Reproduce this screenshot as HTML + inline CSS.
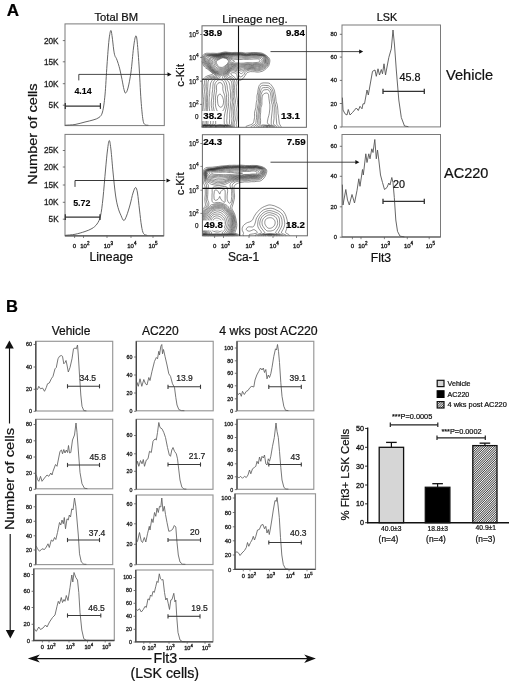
<!DOCTYPE html>
<html lang="en"><head><meta charset="utf-8"><title>Figure: Flt3+ LSK cells after AC220</title>
<style>html,body{margin:0;padding:0;background:#fff}body{width:520px;height:682px;overflow:hidden}svg{display:block}text{font-family:"Liberation Sans", Arial, sans-serif}</style></head><body>
<svg width="520" height="682" viewBox="0 0 520 682">
<defs><pattern id="hatch" width="1.25" height="1.25" patternUnits="userSpaceOnUse" patternTransform="rotate(45)"><rect width="1.25" height="1.25" fill="#fff"/><rect width="0.62" height="1.25" fill="#3c3c3c"/></pattern></defs>
<rect width="520" height="682" fill="#fff"/>
<text x="6.80" y="16.30" font-size="17" text-anchor="start" font-weight="bold" fill="#000" stroke="#000" stroke-width="0.22" >A</text>
<text x="116.30" y="21.30" font-size="11.2" text-anchor="middle" font-weight="normal" fill="#111" stroke="#111" stroke-width="0.22" >Total BM</text>
<text x="254.90" y="22.80" font-size="11.3" text-anchor="middle" font-weight="normal" fill="#111" stroke="#111" stroke-width="0.22" >Lineage neg.</text>
<text x="387.00" y="21.30" font-size="10.8" text-anchor="middle" font-weight="normal" fill="#111" stroke="#111" stroke-width="0.22" >LSK</text>
<text x="446.00" y="79.80" font-size="14.6" text-anchor="start" font-weight="normal" fill="#111" stroke="#111" stroke-width="0.22" >Vehicle</text>
<text x="444.00" y="178.40" font-size="14.5" text-anchor="start" font-weight="normal" fill="#111" stroke="#111" stroke-width="0.22" >AC220</text>
<text transform="translate(36.70 134.00) rotate(-90) scale(1.105 1)" font-size="13.2" text-anchor="middle" fill="#111" stroke="#111" stroke-width="0.22" >Number of cells</text>
<text x="111.30" y="260.80" font-size="12.2" text-anchor="middle" font-weight="normal" fill="#111" stroke="#111" stroke-width="0.22" >Lineage</text>
<text x="243.60" y="261.40" font-size="12.0" text-anchor="middle" font-weight="normal" fill="#111" stroke="#111" stroke-width="0.22" >Sca-1</text>
<text x="381.00" y="261.80" font-size="12.2" text-anchor="middle" font-weight="normal" fill="#111" stroke="#111" stroke-width="0.22" >Flt3</text>
<text transform="translate(184.00 75.30) rotate(-90) scale(1.05 1)" font-size="10.8" text-anchor="middle" fill="#111" stroke="#111" stroke-width="0.22" >c-Kit</text>
<text transform="translate(184.00 183.80) rotate(-90) scale(1.05 1)" font-size="10.8" text-anchor="middle" fill="#111" stroke="#111" stroke-width="0.22" >c-Kit</text>
<rect x="65.00" y="23.90" width="99.30" height="101.70" fill="none" stroke="#7a7a7a" stroke-width="1.0"/>
<text x="58.60" y="43.55" font-size="8.2" text-anchor="end" font-weight="normal" fill="#222" stroke="#222" stroke-width="0.3" >20K</text>
<line x1="62.80" y1="40.60" x2="65.00" y2="40.60" stroke="#555" stroke-width="0.8" />
<text x="58.60" y="64.75" font-size="8.2" text-anchor="end" font-weight="normal" fill="#222" stroke="#222" stroke-width="0.3" >15K</text>
<line x1="62.80" y1="61.80" x2="65.00" y2="61.80" stroke="#555" stroke-width="0.8" />
<text x="58.60" y="86.65" font-size="8.2" text-anchor="end" font-weight="normal" fill="#222" stroke="#222" stroke-width="0.3" >10K</text>
<line x1="62.80" y1="83.70" x2="65.00" y2="83.70" stroke="#555" stroke-width="0.8" />
<text x="58.60" y="108.15" font-size="8.2" text-anchor="end" font-weight="normal" fill="#222" stroke="#222" stroke-width="0.3" >5K</text>
<line x1="62.80" y1="105.20" x2="65.00" y2="105.20" stroke="#555" stroke-width="0.8" />
<path d="M65.50 125.20 C67.08 125.08 71.75 125.03 75.00 124.50 C78.25 123.97 82.00 122.75 85.00 122.00 C88.00 121.25 90.67 120.75 93.00 120.00 C95.33 119.25 97.42 118.83 99.00 117.50 C100.58 116.17 101.50 115.75 102.50 112.00 C103.50 108.25 104.25 102.83 105.00 95.00 C105.75 87.17 106.33 74.17 107.00 65.00 C107.67 55.83 108.37 45.75 109.00 40.00 C109.63 34.25 110.27 31.00 110.80 30.50 C111.33 30.00 111.73 33.92 112.20 37.00 C112.67 40.08 113.17 45.92 113.60 49.00 C114.03 52.08 114.33 53.92 114.80 55.50 C115.27 57.08 115.83 57.17 116.40 58.50 C116.97 59.83 117.60 61.58 118.20 63.50 C118.80 65.42 119.37 67.33 120.00 70.00 C120.63 72.67 121.33 76.25 122.00 79.50 C122.67 82.75 123.40 87.25 124.00 89.50 C124.60 91.75 124.93 93.25 125.60 93.00 C126.27 92.75 127.10 91.50 128.00 88.00 C128.90 84.50 130.08 78.67 131.00 72.00 C131.92 65.33 132.75 53.92 133.50 48.00 C134.25 42.08 134.92 37.83 135.50 36.50 C136.08 35.17 136.42 35.25 137.00 40.00 C137.58 44.75 138.33 55.00 139.00 65.00 C139.67 75.00 140.33 90.83 141.00 100.00 C141.67 109.17 142.33 115.90 143.00 120.00 C143.67 124.10 144.17 123.73 145.00 124.60 C145.83 125.47 147.50 125.10 148.00 125.20" fill="none" stroke="#555" stroke-width="0.9" stroke-linejoin="round" stroke-linecap="round" />
<line x1="65.30" y1="106.00" x2="100.40" y2="106.00" stroke="#333" stroke-width="1.25" />
<line x1="65.30" y1="103.10" x2="65.30" y2="108.90" stroke="#333" stroke-width="1.25" />
<line x1="100.40" y1="103.10" x2="100.40" y2="108.90" stroke="#333" stroke-width="1.25" />
<text x="74.40" y="94.20" font-size="8.9" text-anchor="start" font-weight="bold" fill="#000" stroke="#000" stroke-width="0.1" >4.14</text>
<path d="M78.80 80.00 L78.80 74.40 L168.00 74.40" fill="none" stroke="#333" stroke-width="0.9" stroke-linejoin="round" stroke-linecap="round" />
<path d="M171.50 74.40 L167.50 72.30 L167.50 76.50 Z" fill="#111"/>
<rect x="65.00" y="134.40" width="98.80" height="101.40" fill="none" stroke="#7a7a7a" stroke-width="1.0"/>
<text x="58.60" y="153.45" font-size="8.2" text-anchor="end" font-weight="normal" fill="#222" stroke="#222" stroke-width="0.3" >25K</text>
<line x1="62.80" y1="150.50" x2="65.00" y2="150.50" stroke="#555" stroke-width="0.8" />
<text x="58.60" y="169.95" font-size="8.2" text-anchor="end" font-weight="normal" fill="#222" stroke="#222" stroke-width="0.3" >20K</text>
<line x1="62.80" y1="167.00" x2="65.00" y2="167.00" stroke="#555" stroke-width="0.8" />
<text x="58.60" y="187.95" font-size="8.2" text-anchor="end" font-weight="normal" fill="#222" stroke="#222" stroke-width="0.3" >15K</text>
<line x1="62.80" y1="185.00" x2="65.00" y2="185.00" stroke="#555" stroke-width="0.8" />
<text x="58.60" y="205.25" font-size="8.2" text-anchor="end" font-weight="normal" fill="#222" stroke="#222" stroke-width="0.3" >10K</text>
<line x1="62.80" y1="202.30" x2="65.00" y2="202.30" stroke="#555" stroke-width="0.8" />
<text x="58.60" y="222.15" font-size="8.2" text-anchor="end" font-weight="normal" fill="#222" stroke="#222" stroke-width="0.3" >5K</text>
<line x1="62.80" y1="219.20" x2="65.00" y2="219.20" stroke="#555" stroke-width="0.8" />
<path d="M65.50 235.30 C67.08 235.13 71.75 234.93 75.00 234.30 C78.25 233.67 82.17 232.47 85.00 231.50 C87.83 230.53 90.00 229.75 92.00 228.50 C94.00 227.25 95.58 226.08 97.00 224.00 C98.42 221.92 99.50 220.33 100.50 216.00 C101.50 211.67 102.17 205.67 103.00 198.00 C103.83 190.33 104.75 178.00 105.50 170.00 C106.25 162.00 106.87 154.92 107.50 150.00 C108.13 145.08 108.72 140.50 109.30 140.50 C109.88 140.50 110.38 144.75 111.00 150.00 C111.62 155.25 112.25 164.50 113.00 172.00 C113.75 179.50 114.67 189.08 115.50 195.00 C116.33 200.92 117.08 204.08 118.00 207.50 C118.92 210.92 120.03 213.33 121.00 215.50 C121.97 217.67 122.88 220.42 123.80 220.50 C124.72 220.58 125.47 218.58 126.50 216.00 C127.53 213.42 128.92 208.83 130.00 205.00 C131.08 201.17 132.07 195.92 133.00 193.00 C133.93 190.08 134.85 187.50 135.60 187.50 C136.35 187.50 136.85 189.25 137.50 193.00 C138.15 196.75 138.83 204.50 139.50 210.00 C140.17 215.50 140.83 222.08 141.50 226.00 C142.17 229.92 142.58 231.95 143.50 233.50 C144.42 235.05 146.42 235.00 147.00 235.30" fill="none" stroke="#555" stroke-width="0.9" stroke-linejoin="round" stroke-linecap="round" />
<line x1="65.30" y1="217.20" x2="100.00" y2="217.20" stroke="#333" stroke-width="1.25" />
<line x1="65.30" y1="214.30" x2="65.30" y2="220.10" stroke="#333" stroke-width="1.25" />
<line x1="100.00" y1="214.30" x2="100.00" y2="220.10" stroke="#333" stroke-width="1.25" />
<text x="73.20" y="206.00" font-size="8.9" text-anchor="start" font-weight="bold" fill="#000" stroke="#000" stroke-width="0.1" >5.72</text>
<path d="M75.00 186.50 L75.00 180.50 L165.00 180.50" fill="none" stroke="#222" stroke-width="0.9" stroke-linejoin="round" stroke-linecap="round" />
<path d="M170.50 180.50 L166.50 178.40 L166.50 182.60 Z" fill="#111"/>
<text x="74.40" y="247.60" font-size="6.0" text-anchor="middle" font-weight="normal" fill="#222" stroke="#222" stroke-width="0.35" >0</text>
<text x="84.80" y="247.60" font-size="6.0" text-anchor="middle" font-weight="normal" fill="#222" stroke="#222" stroke-width="0.35" >10<tspan dy="-2.88" font-size="4.56">2</tspan></text>
<text x="108.30" y="247.60" font-size="6.0" text-anchor="middle" font-weight="normal" fill="#222" stroke="#222" stroke-width="0.35" >10<tspan dy="-2.88" font-size="4.56">3</tspan></text>
<text x="131.90" y="247.60" font-size="6.0" text-anchor="middle" font-weight="normal" fill="#222" stroke="#222" stroke-width="0.35" >10<tspan dy="-2.88" font-size="4.56">4</tspan></text>
<text x="153.00" y="247.60" font-size="6.0" text-anchor="middle" font-weight="normal" fill="#222" stroke="#222" stroke-width="0.35" >10<tspan dy="-2.88" font-size="4.56">5</tspan></text>
<line x1="65.00" y1="235.80" x2="163.80" y2="235.80" stroke="#555" stroke-width="1.2" />
<line x1="74.60" y1="235.80" x2="74.60" y2="238.00" stroke="#555" stroke-width="0.7" />
<line x1="83.50" y1="235.80" x2="83.50" y2="238.00" stroke="#555" stroke-width="0.7" />
<line x1="107.00" y1="235.80" x2="107.00" y2="238.00" stroke="#555" stroke-width="0.7" />
<line x1="131.00" y1="235.80" x2="131.00" y2="238.00" stroke="#555" stroke-width="0.7" />
<line x1="153.00" y1="235.80" x2="153.00" y2="238.00" stroke="#555" stroke-width="0.7" />
<g fill="none" stroke="#222" stroke-width="0.5" stroke-linejoin="round">
<path d="M202.0 58.2L202.4 56.3L202.9 55.3L203.5 54.7L204.2 54.1L205.0 53.7L205.8 53.4L206.8 53.2L210.5 53.3L213.0 53.2L217.0 53.4L219.6 53.0L224.0 52.1L225.5 51.9L228.2 52.3L232.0 52.6L235.0 52.4L238.2 52.5L241.2 52.4L245.5 53.0L250.8 52.6L255.2 52.5L260.5 52.8L262.0 53.2L263.2 53.6L265.5 54.9L266.8 55.8L267.9 56.8L268.9 57.8L269.4 58.5L269.8 59.8L269.9 61.0L269.6 62.8L268.9 65.3L268.3 66.3L267.2 67.6L266.5 68.3L264.2 70.2L263.2 70.8L262.2 71.3L261.0 71.6L259.2 72.0L257.0 72.1L254.2 71.7L252.5 71.7L250.5 71.6L249.5 71.8L247.5 72.4L247.0 72.7L246.5 73.2L245.2 75.5L243.0 78.5L242.0 79.4L240.8 80.1L240.0 80.3L239.2 80.2L238.5 79.8L237.9 79.3L237.6 78.8L237.4 78.0L237.0 75.5L236.8 74.5L236.3 73.8L235.8 73.2L235.2 73.0L234.5 72.8L232.5 72.7L231.8 72.8L231.2 73.0L230.8 73.5L230.7 74.0L231.0 74.5L234.0 76.8L234.8 77.5L235.6 78.5L236.5 80.0L237.0 82.0L237.0 83.3L236.4 86.3L236.4 87.8L236.6 90.3L236.7 95.8L237.4 100.8L237.5 102.3L237.4 104.3L236.7 109.0L237.0 112.5L237.0 115.0L237.2 118.0L236.6 122.3L236.2 124.5L236.3 125.3L236.7 126.5L236.6 127.3"/>
<path d="M202.0 124.7L202.7 124.3L202.9 124.0L203.2 121.8L203.1 119.3L203.0 116.0L203.1 113.8L202.9 109.8L203.7 101.0L203.6 99.5L203.1 96.8L203.0 95.0L202.6 91.8L202.6 90.8L203.1 86.0L203.0 85.0L202.4 82.8L202.4 81.8L202.4 80.8L202.7 80.0L203.3 79.0L204.5 77.8L205.5 76.9L206.8 76.2L208.2 75.6L212.2 74.5L212.5 74.3L212.6 74.0L212.5 73.5L212.1 73.0L210.9 71.8L207.8 69.3L205.8 68.1L204.7 67.0L203.9 66.0L203.3 65.0L202.0 61.4"/>
<path d="M246.3 127.3L246.0 127.0L245.9 126.8L246.0 126.5L246.3 126.3L247.2 125.9L250.6 124.8L251.8 124.3L252.9 123.5L253.4 122.8L253.8 121.5L254.6 117.3L254.6 116.3L254.5 113.5L254.7 111.8L255.8 107.8L256.3 102.5L257.0 99.5L256.9 96.8L257.0 95.5L257.7 92.8L258.1 89.5L258.8 86.5L259.1 85.8L259.5 85.0L260.0 84.4L260.8 83.7L261.5 83.3L262.2 83.1L263.2 82.9L264.8 82.9L268.2 83.0L269.2 83.3L270.0 83.7L271.1 84.8L272.6 86.8L273.5 88.3L274.2 89.8L274.6 91.3L275.0 93.8L275.6 96.3L276.1 101.3L276.3 102.0L277.1 104.3L277.4 105.8L277.9 110.3L278.0 113.5L278.5 116.0L278.7 118.3L279.3 123.3L279.8 124.5L280.9 126.3L281.1 126.8L281.0 127.3"/>
<path d="M202.0 125.3L204.2 124.5L204.7 124.3L204.9 124.0L205.0 123.5L205.2 118.0L204.8 110.5L205.2 107.3L205.2 105.0L205.3 101.3L205.0 98.0L204.9 94.3L204.5 91.3L205.0 86.5L204.5 82.3L204.6 80.8L205.0 79.8L205.6 78.8L206.2 78.1L207.0 77.6L208.0 77.1L209.0 76.7L213.8 75.7L214.2 75.4L214.4 75.0L214.3 74.5L214.0 74.0L212.8 72.8L211.2 71.3L206.0 66.8L205.1 65.8L204.4 64.8L203.2 61.8L202.9 60.8L202.8 60.0L202.9 58.8L203.3 57.0L203.6 56.0L203.9 55.5L205.0 54.7L205.8 54.4L206.5 54.3L213.5 54.0L217.2 54.1L220.4 53.5L223.0 53.0L225.5 52.6L232.0 53.3L234.8 53.1L237.0 53.2L241.0 53.1L244.2 53.6L246.0 53.8L247.2 53.8L251.2 53.3L256.0 53.2L260.8 53.7L262.0 54.0L263.2 54.4L264.8 55.1L266.0 55.9L266.7 56.5L267.7 57.5L268.2 58.3L268.5 59.0L268.7 60.0L268.8 61.0L268.7 62.3L268.2 64.0L267.9 65.0L267.3 66.0L266.1 67.3L263.0 69.5L262.2 69.8L261.2 70.1L257.8 70.8L256.5 70.8L254.0 70.3L250.5 70.1L249.5 70.2L247.0 70.8L246.2 71.2L245.5 71.9L244.8 72.8L243.9 74.5L243.0 75.5L241.8 76.4L241.0 76.8L240.5 76.9L239.8 76.7L239.2 76.2L238.8 75.3L238.1 73.5L237.2 72.4L236.2 71.7L235.0 71.2L233.0 70.9L232.0 71.0L231.2 71.2L230.5 71.6L229.8 72.3L229.2 73.0L228.9 73.8L228.6 75.0L228.8 75.7L229.2 76.1L231.0 76.8L231.8 77.1L232.5 77.6L233.2 78.3L233.7 79.0L234.1 79.8L234.8 81.8L235.0 82.8L235.0 83.5L234.5 87.3L234.8 90.5L234.6 95.5L234.7 96.8L235.4 100.3L235.5 101.3L235.4 102.3L235.0 104.5L234.6 108.5L234.9 112.0L234.9 115.0L235.3 118.5L235.2 119.8L234.4 122.3L234.1 124.0L234.1 125.0L234.5 126.5L234.4 127.3"/>
<path d="M251.4 127.3L251.1 126.8L251.4 126.3L252.2 125.8L254.2 124.8L255.0 124.3L255.5 123.8L255.9 123.0L256.1 120.3L256.6 117.8L256.4 114.5L256.5 113.3L256.8 111.3L257.3 108.8L258.1 103.8L258.6 98.8L258.6 95.3L259.4 89.8L260.1 87.5L260.4 86.8L260.8 86.3L261.2 85.9L262.0 85.5L262.8 85.3L263.8 85.3L268.0 85.6L268.8 85.8L269.5 86.3L270.8 87.3L271.5 88.1L272.2 89.3L273.0 91.3L273.3 92.3L273.5 94.3L274.2 97.8L274.5 101.6L275.4 104.8L276.0 107.8L276.0 110.8L276.1 113.3L276.2 117.3L276.7 123.5L276.9 124.3L277.2 124.8L278.7 126.3L278.9 126.8L278.9 127.3"/>
<path d="M202.0 125.6L203.0 125.2L205.0 124.8L205.8 124.5L206.2 124.3L206.4 123.8L206.6 118.5L206.3 110.0L206.5 107.5L206.6 102.3L206.5 100.8L206.2 98.0L206.4 95.0L206.4 93.0L206.2 90.8L206.3 86.5L206.2 82.0L206.3 80.8L206.6 80.0L207.0 79.3L207.5 78.8L208.2 78.3L209.2 77.9L211.2 77.5L214.5 76.5L215.5 76.0L215.7 75.5L215.4 74.8L214.8 74.0L208.2 67.9L206.5 66.3L205.8 65.5L205.3 64.8L204.1 62.0L203.9 61.3L203.7 60.3L203.7 59.0L204.0 57.3L204.3 56.5L204.7 55.8L205.5 55.2L206.8 54.9L213.0 54.5L217.2 54.5L219.9 54.0L222.5 53.4L225.8 53.0L231.8 53.7L234.8 53.5L236.8 53.6L241.0 53.6L243.9 54.0L246.2 54.3L247.8 54.2L251.5 53.7L253.5 53.8L256.0 53.7L261.0 54.2L262.2 54.5L263.5 54.9L265.5 56.1L266.3 56.8L266.9 57.5L267.4 58.3L267.7 59.3L267.9 60.5L267.9 61.5L267.7 62.8L267.4 64.0L266.9 65.0L266.4 65.8L265.5 66.7L262.5 68.6L261.8 68.9L260.8 69.2L258.8 69.6L257.5 69.8L256.2 69.8L253.8 69.3L251.0 69.1L250.0 69.2L246.8 69.7L246.0 70.0L245.5 70.3L243.9 71.5L242.2 73.2L241.8 73.5L241.2 73.6L240.5 73.4L238.0 71.3L237.0 70.7L234.2 69.9L233.2 69.7L232.5 69.8L231.8 70.0L231.0 70.3L230.2 70.8L229.5 71.5L228.5 72.8L227.2 75.0L227.0 75.5L227.0 76.1L227.2 76.5L227.5 77.0L228.5 77.5L230.2 78.0L231.0 78.3L231.7 78.8L232.2 79.3L232.8 80.5L233.4 82.5L233.4 83.5L233.3 87.8L233.6 90.5L233.3 93.3L233.2 96.3L233.3 97.5L233.9 100.5L234.0 101.5L233.9 102.5L233.4 105.0L233.0 108.0L233.1 109.0L233.4 111.8L233.4 115.5L233.7 119.0L233.6 120.0L233.0 122.1L232.8 124.0L232.9 125.0L233.4 126.5L233.2 127.3"/>
<path d="M254.4 127.3L254.2 126.8L254.3 126.5L254.8 126.0L257.0 124.5L257.4 124.0L257.7 123.3L257.7 122.5L257.6 120.8L257.9 117.8L257.9 114.3L258.5 110.3L258.7 107.5L259.5 103.3L259.6 101.0L259.8 99.0L259.7 94.8L260.8 90.5L261.2 89.5L261.6 88.8L262.0 88.3L262.7 87.8L263.5 87.6L265.5 87.6L267.0 87.4L267.8 87.5L268.5 87.8L269.5 88.4L270.2 89.0L271.0 90.3L271.6 91.5L271.9 92.5L272.8 98.8L273.1 101.3L273.9 104.5L274.3 108.0L274.2 113.0L274.0 115.5L274.1 118.3L273.5 122.8L273.5 123.8L273.7 124.3L274.1 124.8L276.1 126.0L276.7 126.5L276.8 126.8L276.7 127.0L276.5 127.3"/>
<path d="M202.0 126.0L202.5 125.7L203.2 125.4L206.6 124.8L207.3 124.5L207.7 124.3L207.9 123.8L208.0 119.5L207.8 116.0L207.8 112.8L207.6 109.8L207.7 102.3L207.4 98.0L207.8 94.5L207.8 92.3L207.6 89.0L207.8 86.8L207.9 83.0L208.2 81.0L208.7 80.0L209.5 79.4L212.8 78.0L216.2 76.9L216.7 76.5L216.9 76.0L216.7 75.3L216.1 74.5L210.3 69.3L208.8 67.6L206.9 65.8L206.2 64.8L204.9 62.0L204.5 60.5L204.5 59.3L204.7 57.8L205.0 56.9L205.3 56.3L205.9 55.8L206.5 55.6L209.0 55.1L211.8 54.9L217.3 54.8L218.9 54.5L222.5 53.7L225.8 53.4L231.5 54.0L234.5 53.9L236.5 54.0L240.8 53.9L244.0 54.4L246.5 54.7L248.2 54.5L251.5 54.1L253.8 54.2L256.0 54.1L258.8 54.4L261.2 54.6L262.2 54.8L263.2 55.2L264.2 55.7L265.2 56.4L266.0 57.0L266.5 57.8L266.8 58.5L267.0 59.5L267.0 62.0L266.8 63.0L266.6 63.8L266.2 64.6L265.8 65.3L265.0 66.0L262.2 67.7L261.5 68.0L259.2 68.6L257.5 68.9L256.2 68.8L254.0 68.4L251.2 68.3L246.5 68.9L245.2 69.3L242.8 70.7L241.5 71.0L240.0 70.8L237.7 69.8L235.0 68.9L234.0 68.8L232.8 68.9L232.0 69.1L231.2 69.4L230.2 70.0L229.5 70.7L228.8 71.5L226.6 74.3L226.0 75.3L225.7 76.5L225.8 77.0L226.0 77.5L227.0 78.4L229.8 79.8L230.8 80.5L231.4 81.5L231.8 83.0L232.0 85.8L232.0 88.3L232.3 90.5L232.0 93.8L231.9 96.5L232.5 100.3L232.6 101.5L232.5 102.5L232.0 105.0L231.7 108.0L231.9 112.0L231.7 116.0L232.0 118.8L231.6 121.5L231.5 123.8L231.6 124.8L232.5 126.3L232.6 126.8L232.3 127.3"/>
<path d="M256.9 127.3L256.8 126.8L256.9 126.3L258.7 124.5L259.0 124.0L259.1 123.3L259.0 119.8L259.0 114.8L259.5 111.8L259.7 107.5L260.5 104.8L260.7 103.8L260.6 101.3L260.8 99.0L260.8 96.3L261.0 94.5L262.3 91.5L262.8 90.8L263.2 90.3L263.8 90.0L264.2 89.9L266.8 89.6L267.5 89.6L268.0 89.8L268.5 90.1L269.1 90.5L269.5 91.0L270.0 91.9L270.5 93.5L271.0 96.3L271.1 98.8L271.4 101.5L271.6 102.5L272.2 104.5L272.4 105.8L272.3 110.0L271.3 119.0L271.2 123.5L271.4 124.3L271.8 124.8L272.5 125.3L274.2 126.1L274.9 126.5L275.0 126.8L274.9 127.0L274.8 127.3"/>
<path d="M202.0 126.5L202.3 126.0L203.2 125.6L204.2 125.4L207.1 125.0L209.6 124.5L210.2 124.3L210.5 124.0L210.6 123.8L210.6 119.3L209.9 114.5L209.8 111.5L209.4 108.8L209.1 105.8L209.1 101.3L209.2 97.5L209.7 93.3L209.8 89.8L210.2 87.3L210.4 84.0L210.8 82.8L211.3 81.8L212.1 80.5L213.0 79.5L213.6 79.0L214.6 78.5L217.5 77.4L218.0 77.0L218.3 76.5L218.1 75.8L217.2 74.8L216.4 74.0L214.0 72.2L210.9 69.3L207.2 65.0L205.7 62.0L205.3 60.8L205.3 59.8L205.5 58.3L205.8 57.5L206.1 56.8L206.8 56.3L207.3 56.0L209.8 55.4L211.5 55.2L217.5 55.1L219.1 54.8L222.5 54.0L225.8 53.7L231.2 54.4L234.2 54.2L236.5 54.4L240.8 54.3L243.8 54.8L246.5 55.0L248.8 54.8L251.5 54.4L253.8 54.5L256.0 54.4L258.8 54.8L261.2 54.9L262.2 55.1L263.0 55.4L264.0 55.9L264.9 56.5L265.4 57.0L265.8 57.8L266.1 58.5L266.2 59.3L266.2 62.0L265.9 63.5L265.1 64.8L264.5 65.3L262.0 66.8L260.8 67.3L257.5 67.9L256.5 67.9L254.2 67.6L251.2 67.6L246.8 68.0L245.0 68.4L242.5 69.2L241.2 69.4L239.5 69.2L235.2 67.9L234.0 67.8L233.0 68.0L232.2 68.2L231.2 68.7L230.2 69.4L229.5 70.0L228.5 71.0L227.0 72.9L225.5 74.4L224.8 75.5L224.4 76.8L224.4 77.3L224.6 77.8L225.1 78.5L227.8 80.8L228.6 81.8L229.2 83.0L229.9 85.8L230.0 88.3L230.5 91.3L230.6 92.8L230.4 96.0L230.9 99.3L231.0 100.5L230.4 105.0L229.6 114.5L229.7 118.3L229.4 123.5L229.5 124.0L229.8 124.5L231.0 125.4L231.7 126.0L231.9 126.5L231.9 126.8L231.6 127.3"/>
<path d="M258.5 127.3L258.4 126.8L258.4 126.5L258.7 126.0L259.8 125.0L260.1 124.5L260.4 124.0L260.5 123.3L260.6 120.5L260.3 117.5L260.3 115.0L260.7 112.3L260.8 108.0L261.0 107.2L261.7 105.3L261.9 104.3L261.9 100.8L262.1 97.8L262.3 96.3L262.8 95.0L263.1 94.5L263.6 94.0L264.2 93.6L265.0 93.3L265.8 93.1L266.5 93.0L267.2 93.1L267.8 93.4L268.2 94.0L268.5 94.7L268.7 95.8L268.9 98.3L269.8 104.5L269.9 106.0L269.8 109.0L269.3 113.3L268.8 115.5L268.0 118.3L267.4 121.8L267.4 122.8L267.6 123.3L267.9 123.8L268.8 124.5L272.5 126.0L273.5 126.5L273.7 126.8L273.6 127.0L273.4 127.3"/>
<path d="M202.7 127.3L202.3 126.8L202.4 126.3L202.8 126.0L203.5 125.7L204.5 125.5L211.6 124.8L212.4 124.5L212.8 124.3L213.0 123.8L213.2 122.3L213.2 119.3L212.6 114.3L211.8 108.3L211.3 105.8L211.3 102.0L212.0 96.3L212.1 93.3L212.7 89.8L212.8 86.5L213.2 83.3L213.4 82.3L213.8 81.6L214.2 80.9L214.8 80.3L215.7 79.5L216.5 79.1L219.4 77.8L220.1 77.3L220.3 76.8L219.9 76.0L216.6 73.5L214.8 72.3L211.7 69.5L210.5 68.3L208.3 65.5L206.6 62.3L206.2 61.0L206.2 60.3L206.3 59.3L206.6 58.3L207.1 57.5L207.9 56.8L208.7 56.3L210.2 55.8L211.8 55.6L217.5 55.3L219.2 55.1L222.2 54.3L225.5 54.0L226.8 54.0L230.8 54.7L234.0 54.6L236.5 54.8L240.5 54.6L243.8 55.1L246.5 55.4L249.0 55.1L251.5 54.8L253.8 54.9L256.0 54.8L258.8 55.1L261.2 55.3L262.8 55.7L263.5 56.0L264.2 56.5L264.7 57.0L265.2 57.8L265.4 58.5L265.5 59.3L265.5 61.8L265.3 63.0L264.7 64.0L263.9 64.8L262.0 65.9L260.5 66.4L257.5 66.8L256.2 66.9L254.2 66.8L247.5 67.0L243.5 67.6L240.5 68.2L239.0 68.0L236.7 67.3L235.5 67.0L234.0 67.0L233.0 67.1L232.2 67.4L231.2 68.0L230.5 68.5L229.5 69.4L228.5 70.4L226.8 72.5L224.6 74.3L223.0 76.3L222.6 77.0L222.5 77.5L222.8 78.0L223.1 78.5L225.2 80.8L225.9 81.8L226.3 82.8L227.1 85.5L227.4 89.3L228.3 92.5L228.4 93.5L228.3 96.3L228.6 98.8L228.7 102.5L228.3 106.5L227.5 111.1L227.0 115.0L227.0 118.0L226.7 120.3L227.0 123.8L227.2 124.3L227.4 124.5L228.0 124.8L230.0 125.4L231.0 126.0L231.3 126.5L231.2 127.0L231.0 127.3"/>
<path d="M259.8 127.3L259.6 126.8L259.7 126.5L260.5 125.8L262.0 125.0L263.2 124.9L267.2 125.2L270.8 125.9L271.8 126.2L272.3 126.5L272.5 126.8L272.5 127.0L272.2 127.3"/>
<path d="M222.2 75.4L221.8 75.5L221.2 75.5L219.8 74.9L218.5 74.2L215.0 71.9L211.3 68.5L209.0 65.5L208.5 64.8L207.5 62.3L207.3 61.5L207.2 60.8L207.4 59.8L207.9 58.5L208.6 57.5L209.4 56.8L210.2 56.3L211.2 56.1L217.8 55.6L219.2 55.3L222.2 54.6L226.0 54.3L227.2 54.4L230.8 55.1L234.0 55.0L236.5 55.2L240.8 55.1L243.5 55.5L246.2 55.8L247.5 55.7L252.0 55.2L256.2 55.2L258.8 55.5L261.0 55.6L262.0 55.8L263.1 56.3L263.9 57.0L264.5 58.0L264.8 59.0L264.9 60.5L264.8 61.8L264.6 62.8L264.2 63.5L263.7 64.0L261.8 65.1L260.0 65.6L257.0 66.0L254.5 66.0L252.0 66.2L247.2 66.1L243.0 66.7L240.2 67.1L239.2 67.0L237.2 66.5L236.2 66.3L234.2 66.2L233.0 66.3L232.0 66.7L230.8 67.5L229.2 69.0L226.5 72.0L224.8 73.3L223.0 75.0L222.2 75.4Z"/>
<path d="M203.0 127.3L202.8 127.0L202.6 126.8L202.6 126.5L203.1 126.0L203.8 125.8L204.8 125.6L212.5 125.0L214.9 124.5L215.4 124.3L215.6 124.0L215.7 123.3L215.6 118.8L214.9 114.3L213.3 106.8L213.2 105.8L213.3 102.5L213.6 100.3L213.6 97.3L214.7 89.3L214.8 85.0L214.9 84.0L215.3 83.0L215.8 82.3L216.8 81.2L217.5 80.5L218.2 80.0L219.0 79.8L220.0 79.7L221.2 79.9L222.5 80.6L223.4 81.5L224.1 82.8L225.2 86.0L225.5 90.0L226.5 94.8L226.5 97.5L226.8 102.8L226.8 105.0L226.6 106.0L224.8 113.5L224.2 117.3L224.1 120.0L224.3 123.8L224.6 124.3L225.1 124.5L229.0 125.5L230.2 126.0L230.6 126.3L230.7 126.5L230.6 127.0L230.4 127.3"/>
<path d="M261.2 127.3L261.0 127.0L261.0 126.8L261.1 126.5L261.4 126.3L262.0 126.0L263.5 125.8L266.2 125.7L268.5 125.8L270.5 126.2L271.2 126.5L271.4 126.8L271.4 127.0L271.1 127.3"/>
<path d="M222.2 74.3L221.2 74.5L219.8 74.1L218.5 73.5L215.5 71.7L214.5 70.9L211.8 68.3L209.6 65.5L209.1 64.5L208.4 62.5L208.2 61.8L208.2 61.0L208.5 60.0L209.2 58.8L209.9 57.8L210.8 57.2L211.6 56.8L212.5 56.6L218.6 55.8L222.2 54.8L226.0 54.6L227.2 54.8L230.0 55.6L231.0 55.7L233.8 55.6L236.8 55.9L241.0 55.8L246.2 56.4L252.0 55.8L256.2 55.9L260.8 56.2L261.8 56.4L262.5 56.8L263.2 57.5L263.8 58.8L264.1 59.8L264.2 61.0L264.0 62.0L263.7 62.8L263.0 63.5L262.2 64.0L261.5 64.4L260.2 64.7L257.0 65.1L254.5 65.2L252.2 65.5L250.5 65.4L248.2 65.2L247.0 65.2L240.2 66.2L239.2 66.1L237.8 65.6L236.8 65.4L233.8 65.4L232.5 65.7L231.7 66.0L230.8 66.7L226.1 71.5L223.0 73.9L222.2 74.3Z"/>
<path d="M219.5 114.3L219.0 114.2L218.8 114.0L218.0 112.9L216.5 109.3L215.9 107.5L215.6 106.0L215.4 103.5L215.5 100.3L215.4 98.0L215.5 97.0L216.6 90.5L216.4 87.0L216.6 85.5L217.2 84.3L218.0 83.3L219.0 82.7L220.0 82.6L221.0 82.8L221.7 83.3L222.2 84.1L222.7 85.3L222.9 86.3L222.8 88.5L222.9 89.8L223.4 91.8L224.6 95.3L224.8 96.0L225.1 100.3L225.2 103.8L225.1 105.0L224.9 106.0L224.2 108.2L223.8 109.4L222.2 111.7L221.0 113.3L220.2 114.0L219.5 114.3Z"/>
<path d="M203.5 127.3L203.1 127.0L203.0 126.8L203.0 126.5L203.2 126.3L203.5 126.1L204.2 125.9L213.1 125.3L220.0 124.6L221.2 124.7L225.8 125.2L228.8 125.8L229.6 126.0L229.9 126.3L230.1 126.5L230.1 126.8L230.0 127.0L229.7 127.3"/>
<path d="M263.5 127.3L263.0 127.0L262.9 126.8L263.3 126.5L264.5 126.3L266.8 126.1L268.5 126.2L269.8 126.5L270.1 126.8L270.1 127.0L269.6 127.3"/>
<path d="M222.0 73.4L220.8 73.4L219.2 73.0L218.0 72.5L216.0 71.4L215.0 70.7L212.5 68.3L211.6 67.3L210.7 66.0L210.1 65.0L209.7 64.0L209.1 62.3L209.0 61.3L209.3 60.3L209.8 59.3L210.5 58.4L211.2 57.8L212.2 57.3L213.5 56.9L215.5 56.5L219.0 56.1L222.2 55.2L225.8 55.1L227.3 55.3L229.8 56.2L230.8 56.5L233.5 56.6L235.8 56.9L241.8 56.9L246.2 57.4L252.5 56.7L257.2 56.8L259.2 57.0L260.8 57.3L261.9 57.8L262.5 58.4L263.1 59.5L263.3 60.3L263.3 61.0L263.1 61.8L262.7 62.5L262.2 63.0L261.5 63.4L260.5 63.8L259.5 64.0L257.5 64.3L254.8 64.4L252.2 64.7L248.2 64.4L247.0 64.4L240.5 65.2L239.8 65.2L238.0 64.7L237.0 64.6L233.5 64.7L232.2 64.9L231.5 65.3L230.8 65.8L229.5 67.1L227.8 69.2L225.8 71.0L223.2 72.8L222.0 73.4Z"/>
<path d="M221.2 107.1L220.8 107.2L220.2 107.2L219.8 106.9L219.2 106.5L218.8 105.9L218.2 104.9L218.0 104.2L217.8 103.3L217.4 98.8L217.5 97.0L217.9 95.8L218.3 95.0L219.0 94.4L219.8 94.2L220.5 94.3L221.0 94.7L221.5 95.2L222.0 96.0L222.8 97.7L223.3 99.5L223.5 100.8L223.5 102.8L223.0 105.0L222.6 105.8L222.2 106.4L221.8 106.9L221.2 107.1Z"/>
<path d="M204.1 127.3L203.6 127.0L203.4 126.8L203.4 126.5L203.8 126.2L204.5 126.0L220.0 125.2L225.0 125.4L228.0 125.9L229.0 126.2L229.5 126.5L229.5 126.8L229.3 127.0L228.9 127.3"/>
<path d="M267.8 127.1L266.5 127.1L266.3 127.0L266.1 126.8L267.0 126.7L267.9 126.8L267.8 127.1Z"/>
<path d="M222.0 72.3L220.8 72.4L219.2 72.2L218.0 71.8L216.8 71.2L215.8 70.5L215.0 69.8L213.2 68.0L212.1 66.8L211.1 65.3L210.6 64.3L210.1 62.8L210.0 61.8L210.1 60.8L210.4 60.0L211.0 59.3L211.8 58.5L212.6 58.0L213.5 57.6L215.6 57.0L219.0 56.5L222.2 55.6L223.2 55.5L225.2 55.6L226.2 55.6L227.2 55.9L230.0 57.1L231.0 57.5L235.0 58.1L240.0 58.1L243.0 58.0L246.2 58.4L253.0 57.7L258.2 57.9L259.8 58.2L260.8 58.7L261.5 59.4L262.0 60.3L262.0 61.3L261.8 61.8L261.5 62.2L260.2 62.9L258.5 63.3L252.5 63.8L247.2 63.6L244.0 64.0L240.8 64.3L240.0 64.2L238.0 63.8L237.0 63.7L233.5 64.0L232.0 64.3L231.0 64.7L230.3 65.3L229.0 66.7L227.6 68.5L226.8 69.3L223.8 71.6L222.8 72.1L222.0 72.3Z"/>
<path d="M206.6 127.3L204.2 127.1L203.9 126.8L203.9 126.5L204.3 126.3L204.8 126.2L208.2 126.0L217.8 125.6L222.5 125.6L225.8 125.7L227.8 126.1L228.5 126.4L228.7 126.5L228.7 126.8L228.5 127.0L227.9 127.3"/>
<path d="M222.0 71.3L220.8 71.4L219.2 71.3L218.2 71.0L217.2 70.6L216.2 69.9L215.0 68.8L213.7 67.5L212.9 66.5L212.2 65.5L211.6 64.3L211.3 63.0L211.1 62.0L211.2 61.3L211.5 60.5L212.1 59.8L213.0 58.9L214.2 58.2L216.0 57.6L219.2 56.9L221.8 56.1L223.2 56.0L225.8 56.3L226.8 56.5L228.0 57.0L231.0 58.4L233.8 59.2L239.8 59.5L241.0 59.5L243.2 59.2L246.5 59.4L249.2 59.2L251.5 59.2L253.5 59.0L257.5 58.9L258.3 59.0L259.0 59.3L259.6 59.8L260.0 60.5L259.9 61.3L259.5 61.8L258.5 62.2L257.5 62.4L252.8 62.8L246.8 62.6L243.8 63.1L241.0 63.2L240.0 63.2L238.0 62.9L236.5 62.9L233.8 63.1L232.0 63.4L231.0 63.8L230.2 64.4L228.8 66.0L227.2 67.9L226.5 68.6L223.8 70.7L223.0 71.1L222.0 71.3Z"/>
<path d="M211.6 127.3L207.2 127.0L205.3 126.8L205.5 126.5L208.5 126.3L217.2 125.8L222.0 125.8L226.0 126.0L227.2 126.3L227.8 126.5L227.9 126.8L227.5 127.0L226.6 127.3"/>
<path d="M222.2 70.3L219.5 70.3L218.8 70.2L218.0 70.0L217.2 69.5L215.8 68.3L214.2 66.8L213.4 65.5L212.8 64.3L212.5 63.3L212.4 62.3L212.5 61.5L212.7 60.8L213.3 60.0L213.8 59.5L215.1 58.8L216.8 58.1L221.8 56.6L223.2 56.5L225.5 56.8L227.0 57.3L228.5 58.0L230.8 59.3L233.5 60.5L234.4 61.0L234.5 61.3L234.3 61.5L233.9 61.8L231.2 62.8L230.5 63.3L229.5 64.2L227.0 67.2L226.2 67.9L223.8 69.8L223.0 70.1L222.2 70.3Z"/>
<path d="M216.6 127.3L209.7 126.8L210.1 126.5L213.0 126.3L220.0 126.0L225.5 126.2L226.8 126.5L226.8 126.8L226.0 127.1L223.6 127.3"/>
<path d="M222.5 69.3L221.8 69.4L220.0 69.3L218.8 69.1L217.8 68.6L216.2 67.3L215.2 66.3L214.7 65.3L214.0 63.5L213.9 62.0L214.0 61.3L214.4 60.5L215.0 60.0L216.0 59.3L217.1 58.8L221.5 57.1L222.2 57.0L223.2 56.9L225.8 57.4L227.4 58.0L230.7 60.5L231.1 61.0L231.1 61.3L230.9 61.8L229.2 63.5L227.5 65.6L226.2 66.9L224.0 68.7L223.2 69.1L222.5 69.3Z"/>
<path d="M222.5 127.1L217.8 127.1L215.0 126.8L215.2 126.5L220.0 126.3L224.5 126.5L225.0 126.5L225.1 126.8L222.5 127.1Z"/>
<path d="M222.8 68.3L221.8 68.4L219.8 68.2L219.0 68.0L218.2 67.5L216.9 66.3L216.2 65.3L215.4 63.5L215.2 62.8L215.2 62.0L215.4 61.3L215.7 60.8L216.2 60.2L217.0 59.7L221.5 57.7L222.5 57.4L223.2 57.4L225.8 57.9L227.2 58.5L228.1 59.3L229.1 60.3L229.5 61.0L229.6 61.5L229.4 62.0L229.1 62.5L226.8 65.4L224.2 67.5L223.5 68.0L222.8 68.3Z"/>
<path d="M222.5 67.3L221.2 67.4L220.0 67.2L219.2 67.0L218.5 66.4L217.6 65.3L216.6 63.5L216.3 62.3L216.4 61.5L216.9 60.8L217.5 60.3L220.8 58.5L222.0 58.0L222.8 57.9L223.5 57.9L225.8 58.4L227.0 59.0L227.9 60.0L228.5 61.0L228.5 61.5L228.4 62.0L227.3 63.8L226.1 65.0L224.0 66.6L223.2 67.1L222.5 67.3Z"/>
</g>
<rect x="202" y="25.8" width="104.40" height="101.50" fill="none" stroke="#686868" stroke-width="1"/>
<line x1="238.5" y1="25.8" x2="238.5" y2="127.3" stroke="#111" stroke-width="1.1"/>
<line x1="202" y1="79.3" x2="306.4" y2="79.3" stroke="#111" stroke-width="1.1"/>
<text x="203.3" y="35.6" font-size="9.7" font-weight="bold" text-anchor="start" fill="#000" stroke="#000" stroke-width="0.2">38.9</text>
<text x="304.8" y="35.6" font-size="9.7" font-weight="bold" text-anchor="end" fill="#000" stroke="#000" stroke-width="0.2">9.84</text>
<rect x="202.3" y="111.0" width="21" height="10" fill="#fff"/>
<text x="203.3" y="119.0" font-size="9.7" font-weight="bold" text-anchor="start" fill="#000" stroke="#000" stroke-width="0.2">38.2</text>
<text x="281.0" y="118.9" font-size="9.7" font-weight="bold" text-anchor="start" fill="#000" stroke="#000" stroke-width="0.2">13.1</text>
<g fill="none" stroke="#222" stroke-width="0.5" stroke-linejoin="round">
<path d="M202.4 209.6L204.7 206.9L205.1 206.2L205.4 205.2L205.4 204.2L205.0 201.7L204.9 200.2L204.9 197.9L205.3 193.9L205.2 188.9L205.0 186.7L204.7 185.7L204.4 184.9L203.6 183.4L203.3 182.2L203.0 179.9L203.1 176.9L202.9 174.2L203.0 171.9L203.5 170.4L204.4 168.9L205.4 167.9L206.2 167.6L206.9 167.4L212.2 167.2L218.5 166.4L222.2 165.9L226.1 165.7L229.4 165.3L231.9 165.3L234.2 165.2L236.9 165.3L240.9 165.1L245.4 165.5L249.2 165.6L251.9 165.4L257.1 165.5L261.9 166.6L263.4 167.3L265.1 168.2L266.1 169.2L266.6 169.9L266.7 170.4L266.8 171.7L266.3 173.7L265.4 175.9L264.3 177.7L262.9 179.2L261.1 180.6L259.9 181.1L256.9 181.3L254.4 181.7L251.4 181.7L248.4 182.0L244.7 181.9L239.9 182.6L237.8 183.2L236.3 183.9L235.2 185.0L234.6 185.7L234.2 186.4L234.0 187.4L234.0 189.7L234.2 192.9L234.6 195.9L234.5 197.7L234.2 199.4L233.0 204.2L232.0 207.2L231.9 208.2L232.1 208.9L232.4 209.7L234.3 213.2L234.8 214.4L236.0 219.2L236.7 223.4L236.8 225.4L236.5 227.9L236.1 229.4L235.0 232.4L234.9 232.9L235.1 233.2L235.4 233.4L238.4 234.4L239.2 234.7L239.6 234.9L239.7 235.2L239.7 235.4L239.1 235.8"/>
<path d="M244.0 235.8L243.1 235.4L242.9 235.2L242.9 234.9L243.5 233.7L243.5 233.2L243.3 232.4L242.4 230.7L242.2 229.4L242.2 228.4L242.5 227.2L243.0 226.2L243.5 225.4L244.2 224.7L246.4 223.1L247.4 222.6L249.7 221.9L251.4 220.9L252.2 220.3L252.9 219.2L254.3 216.2L255.9 213.7L257.6 211.6L260.9 208.5L262.6 207.4L264.4 206.5L268.1 205.1L269.9 204.9L271.4 205.1L274.4 205.8L279.1 208.0L280.4 208.8L282.4 210.4L283.3 211.2L284.0 212.2L285.3 214.4L286.1 216.4L287.1 219.9L287.5 222.2L287.5 223.9L287.4 225.4L286.6 228.9L285.7 231.4L285.6 231.9L285.6 232.4L285.9 232.9L286.5 233.4L288.5 234.4L289.2 234.9L289.5 235.4L289.1 235.8"/>
<path d="M202.4 211.8L203.8 209.7L206.5 206.7L206.9 205.7L207.2 204.4L207.1 203.2L206.4 201.2L206.2 199.4L206.3 197.9L206.6 194.2L206.6 191.9L206.6 185.9L206.3 184.7L205.0 182.4L204.6 181.4L204.3 179.4L204.2 176.7L203.7 174.2L203.8 172.4L204.2 171.2L204.7 170.2L205.7 169.3L206.4 168.9L207.4 168.6L209.7 168.3L212.2 168.2L222.4 166.6L224.8 166.4L229.4 166.0L231.9 166.1L233.9 165.9L236.2 166.0L240.7 165.8L244.9 166.2L251.7 166.1L256.9 166.1L258.1 166.3L261.9 167.4L263.6 168.1L264.6 168.6L265.5 169.4L265.7 169.9L265.8 170.4L265.7 171.7L265.1 173.9L264.4 175.4L263.3 176.9L262.1 178.1L260.6 179.1L259.4 179.6L255.4 180.2L251.4 180.2L247.9 180.6L242.4 180.8L237.2 181.5L235.7 181.9L234.0 182.9L233.1 183.7L232.4 184.7L232.2 185.6L232.1 186.4L232.8 190.2L232.9 193.4L233.2 195.9L233.2 197.4L232.3 201.9L231.7 203.8L230.5 206.2L230.4 206.7L230.4 207.4L230.6 208.4L230.9 209.2L233.4 213.4L234.0 214.9L235.1 219.2L235.7 223.2L235.7 225.2L235.2 228.2L234.8 229.7L233.8 232.4L233.7 232.9L233.8 233.2L234.0 233.4L234.5 233.7L236.9 234.5L237.8 234.9L238.0 235.2L237.9 235.4L237.7 235.7L237.3 235.8"/>
<path d="M224.7 202.2L225.0 201.9L225.2 201.4L225.1 198.2L225.2 192.2L225.1 190.9L225.0 190.4L224.7 189.9L224.2 189.6L223.4 189.5L222.7 189.9L221.8 190.4L221.3 190.9L220.7 191.7L219.9 193.8L219.7 194.1L218.3 191.7L217.4 190.6L216.7 190.2L216.2 190.0L215.4 190.0L214.9 190.2L214.5 190.7L214.3 191.4L213.9 195.2L214.1 198.7L214.3 199.4L214.6 199.9L215.2 200.3L215.9 200.3L216.9 200.0L217.9 199.4L218.8 198.4L219.7 196.4L219.9 196.7L220.1 197.4L220.5 198.4L221.8 200.4L222.6 201.2L223.3 201.7L224.2 202.1L224.7 202.2Z"/>
<path d="M250.1 235.8L249.5 235.7L249.1 235.4L248.9 235.2L249.0 234.9L249.2 234.7L250.2 234.3L253.4 233.9L256.4 233.2L257.2 232.7L257.3 232.4L257.2 231.9L256.8 231.4L256.1 230.9L254.7 229.9L253.9 229.6L253.2 229.7L251.1 230.7L249.9 231.1L248.9 231.2L247.9 230.9L246.9 230.4L246.3 229.7L246.3 228.9L246.7 228.2L247.4 227.4L248.4 226.9L249.4 226.8L252.4 227.0L253.2 226.7L253.7 226.3L254.2 225.5L254.7 224.4L255.5 221.9L256.1 219.2L256.7 217.7L259.4 213.7L260.5 212.4L261.9 211.1L263.6 209.9L264.9 209.3L268.1 208.5L270.9 208.2L272.4 208.4L274.1 208.9L279.1 211.4L280.2 212.2L281.4 213.2L282.1 214.1L282.9 215.2L283.5 216.7L284.0 218.4L284.7 222.2L284.7 224.4L284.4 225.9L283.8 227.7L283.0 229.4L281.6 231.9L281.5 232.7L281.7 233.2L282.5 233.7L285.3 234.7L286.1 235.2L286.2 235.4L286.1 235.7L285.7 235.8"/>
<path d="M202.4 213.7L203.2 212.2L204.7 210.2L205.7 209.0L207.1 207.7L207.7 206.9L208.5 205.2L208.8 204.4L208.9 203.7L208.7 202.4L207.8 200.2L207.6 198.7L207.6 196.9L207.8 194.4L207.9 189.4L208.4 186.4L208.4 185.4L207.8 184.2L206.1 182.2L205.5 181.2L205.1 179.4L204.8 176.7L204.3 174.2L204.4 172.7L204.7 171.4L205.3 170.4L205.9 169.9L206.9 169.3L209.2 168.9L212.9 168.5L222.4 167.0L229.2 166.5L231.7 166.6L233.9 166.4L238.2 166.3L241.4 166.3L244.7 166.7L247.7 166.5L256.6 166.5L257.6 166.6L261.9 167.8L263.1 168.3L264.1 168.9L264.5 169.2L264.9 169.7L265.1 170.4L264.8 171.9L264.3 173.9L263.6 175.2L262.6 176.5L261.6 177.4L260.4 178.1L257.9 178.8L255.9 179.1L250.9 179.1L247.4 179.5L244.2 179.7L241.4 179.7L239.4 180.1L236.4 180.6L235.2 180.9L232.2 182.2L231.4 182.7L230.8 183.2L230.4 183.7L230.2 184.2L230.1 184.7L230.0 185.4L230.2 186.4L231.2 188.8L231.6 190.4L231.7 191.4L231.6 193.4L231.8 196.4L231.4 199.7L231.2 201.2L230.7 202.4L230.4 202.8L229.9 203.1L229.4 203.2L229.2 203.1L228.7 202.7L227.8 201.2L227.3 199.7L227.1 198.4L227.1 195.9L227.3 193.9L227.6 191.7L227.6 190.4L227.2 187.9L226.9 187.2L226.4 186.7L225.7 186.4L224.4 186.4L222.7 186.7L220.2 187.2L219.2 187.4L217.9 187.3L215.2 186.9L214.2 186.9L213.2 187.3L212.7 187.7L212.4 188.3L212.2 189.2L212.1 189.9L212.2 192.4L212.0 195.2L212.0 197.4L211.9 199.7L212.1 201.2L212.4 201.9L212.7 202.3L213.4 202.8L214.2 203.0L217.7 202.4L218.7 202.4L220.2 202.6L222.7 203.4L226.9 205.4L227.4 205.8L227.9 206.3L229.6 209.2L231.2 211.3L233.0 214.4L233.6 215.9L234.3 218.9L234.8 222.9L234.9 224.4L234.8 225.7L234.2 228.7L232.9 232.2L232.8 232.9L232.8 233.2L233.0 233.4L233.5 233.7L235.9 234.6L236.6 234.9L236.8 235.2L236.8 235.4L236.6 235.7L236.1 235.8"/>
<path d="M255.9 235.8L255.3 235.7L255.1 235.4L255.2 235.2L256.2 234.7L260.4 233.4L260.9 233.2L261.3 232.7L261.3 232.2L261.0 231.4L259.2 229.2L258.6 228.2L258.0 226.9L257.7 225.7L257.7 224.2L258.0 221.2L258.5 219.2L259.2 217.7L260.1 216.2L261.6 214.4L262.9 213.2L264.1 212.3L265.4 211.6L266.9 211.0L268.1 210.7L269.9 210.6L271.4 210.8L273.6 211.4L277.4 213.0L278.4 213.6L279.2 214.2L279.9 214.9L280.6 215.9L281.4 217.9L281.9 219.7L282.2 222.9L282.1 224.7L281.8 225.9L281.3 227.2L279.9 229.9L278.7 231.9L278.4 232.7L278.6 233.2L279.3 233.7L282.3 234.7L283.2 235.2L283.3 235.4L283.1 235.7L282.7 235.8"/>
<path d="M202.4 234.0L203.2 233.4L203.4 233.2L203.4 232.9L203.2 232.4L202.4 230.9"/>
<path d="M220.2 185.5L218.9 185.6L217.2 185.5L211.7 184.4L210.7 184.0L209.2 182.9L207.2 181.8L206.7 181.4L206.2 180.7L205.7 179.4L204.8 174.2L204.8 173.2L205.0 171.9L205.3 171.2L205.8 170.4L206.9 169.8L209.7 169.1L212.9 168.8L215.6 168.4L217.7 168.0L220.4 167.7L222.7 167.3L228.9 166.9L231.7 166.9L233.9 166.7L237.9 166.6L241.7 166.8L244.7 167.1L247.9 166.8L253.2 166.9L255.7 166.7L256.6 166.8L257.6 167.0L262.4 168.4L263.7 169.2L264.3 169.9L264.3 170.7L264.1 171.9L263.7 173.4L263.1 174.7L262.4 175.7L261.7 176.4L260.9 176.9L259.9 177.4L257.6 178.1L256.4 178.3L253.4 178.4L250.7 178.3L244.2 178.8L241.7 178.8L235.4 179.9L234.4 180.2L231.2 181.4L227.4 183.4L224.4 184.6L223.2 184.9L220.2 185.5Z"/>
<path d="M202.4 215.6L203.7 212.9L205.6 210.4L207.8 208.2L209.7 206.1L210.4 205.4L211.2 204.9L211.7 204.7L213.7 204.5L216.7 203.7L218.2 203.6L220.2 203.8L221.9 204.2L223.2 204.7L224.9 205.7L226.2 206.6L227.2 207.5L230.2 211.3L232.2 214.4L232.9 215.9L233.5 217.9L233.8 219.7L234.0 222.9L234.0 224.9L233.9 226.2L233.3 228.7L231.9 232.9L232.0 233.2L232.2 233.4L232.6 233.7L234.9 234.6L235.7 234.9L235.9 235.2L235.9 235.4L235.6 235.7L235.0 235.8"/>
<path d="M258.4 235.8L257.9 235.7L257.8 235.4L257.9 235.2L258.3 234.9L259.6 234.5L264.0 233.4L264.6 233.2L264.8 232.9L264.8 232.7L264.6 232.2L261.2 227.9L260.4 226.4L259.9 225.2L259.7 223.7L259.9 221.9L260.3 220.2L261.1 218.2L261.7 217.2L262.6 216.1L263.6 215.1L264.9 214.2L265.9 213.6L267.6 212.9L268.4 212.7L269.4 212.6L270.6 212.8L272.9 213.4L274.1 213.8L275.9 214.6L276.9 215.2L277.6 215.8L278.3 216.4L278.7 217.2L279.2 218.4L279.5 219.7L279.7 223.4L279.5 225.7L279.1 226.9L278.3 228.4L276.0 231.7L275.6 232.7L275.6 232.9L275.9 233.2L276.3 233.4L277.6 233.9L280.2 234.7L281.1 235.1L281.4 235.4L281.3 235.7L280.9 235.8"/>
<path d="M202.4 234.4L204.0 233.4L204.2 233.2L204.2 232.9L204.1 232.4L202.8 230.2L202.4 229.0"/>
<path d="M219.4 184.0L218.2 184.1L216.9 184.1L214.4 183.5L211.9 182.6L207.4 180.7L206.9 180.3L206.4 179.6L206.1 178.7L205.2 174.2L205.2 173.2L205.3 172.2L205.6 171.4L206.1 170.7L206.7 170.3L207.2 170.0L209.9 169.4L213.2 169.1L215.8 168.7L217.9 168.3L220.7 168.1L224.9 167.4L228.9 167.2L231.4 167.3L233.9 167.1L237.9 167.0L241.9 167.2L244.7 167.5L247.9 167.1L252.9 167.2L255.4 167.0L256.4 167.0L257.4 167.2L261.9 168.6L263.0 169.2L263.5 169.9L263.6 170.9L263.2 172.7L262.8 173.9L262.2 174.9L261.6 175.6L260.9 176.1L259.9 176.6L258.4 177.1L257.1 177.5L255.9 177.6L250.2 177.7L244.2 178.2L241.9 178.2L240.7 178.3L234.9 179.3L231.6 180.2L230.1 180.7L223.9 183.3L222.9 183.5L220.9 183.7L219.4 184.0Z"/>
<path d="M202.4 217.5L203.8 214.4L205.1 212.4L206.7 210.6L209.2 208.0L210.4 207.0L211.9 206.3L214.7 205.3L216.2 204.8L217.2 204.7L218.9 204.7L220.9 204.9L222.2 205.2L223.4 205.8L225.7 207.4L227.2 208.7L228.4 210.4L229.9 212.2L231.7 214.9L232.3 216.2L232.8 217.9L233.1 219.4L233.3 222.7L233.2 224.9L233.0 226.4L232.6 228.7L232.0 230.4L231.1 232.9L231.1 233.2L231.3 233.4L231.7 233.7L233.9 234.5L234.9 234.9L235.1 235.2L235.0 235.4L234.7 235.7L234.2 235.8"/>
<path d="M270.9 231.0L268.9 231.0L267.6 231.0L266.6 230.6L265.9 230.1L264.6 228.7L262.9 226.2L262.3 224.9L262.1 223.9L262.0 222.2L262.2 220.9L262.7 219.7L263.5 218.4L264.4 217.4L266.1 216.1L267.6 215.3L268.9 214.9L270.6 214.9L272.4 215.3L273.9 215.9L275.4 216.9L276.3 217.9L277.0 219.2L277.4 220.4L277.6 222.4L277.7 223.7L277.4 224.9L276.5 226.9L275.5 228.4L274.6 229.5L273.6 230.2L272.4 230.6L270.9 231.0Z"/>
<path d="M202.4 234.8L202.9 234.3L204.7 233.4L204.9 233.2L205.0 232.9L204.8 232.4L203.7 230.4L203.2 229.2L202.4 225.0"/>
<path d="M260.3 235.8L259.8 235.7L259.6 235.4L259.8 235.2L260.3 234.9L261.4 234.6L266.4 233.8L270.4 233.6L275.4 234.0L277.9 234.5L279.2 234.9L279.6 235.2L279.8 235.4L279.7 235.7L279.2 235.8"/>
<path d="M218.9 182.7L217.2 182.7L214.7 182.1L207.7 179.7L207.2 179.4L206.7 178.7L206.4 177.9L205.6 174.2L205.6 173.2L205.7 172.2L206.0 171.4L206.3 170.9L206.9 170.5L207.4 170.3L210.2 169.6L213.7 169.3L218.2 168.5L220.9 168.4L224.9 167.7L228.9 167.6L231.2 167.6L233.9 167.4L237.7 167.3L241.9 167.5L244.7 167.9L247.9 167.5L252.7 167.5L255.4 167.3L256.4 167.4L260.3 168.4L261.6 168.9L262.4 169.4L262.8 170.2L262.8 171.2L262.5 172.7L262.2 173.7L261.6 174.6L261.1 175.1L260.4 175.6L257.6 176.7L255.9 177.0L248.7 177.2L243.9 177.6L241.4 177.7L238.4 178.0L234.6 178.7L230.9 179.5L223.9 182.1L222.9 182.3L220.9 182.4L218.9 182.7Z"/>
<path d="M203.1 235.8L202.8 235.7L202.6 235.2L202.8 234.7L203.4 234.3L205.1 233.7L205.5 233.4L205.7 233.2L205.7 232.9L205.4 232.2L204.3 230.2L203.8 228.9L202.6 222.4L202.6 220.7L202.7 218.9L203.0 217.9L203.9 215.9L204.9 214.2L206.0 212.7L208.9 209.4L210.2 208.3L210.9 207.9L214.7 206.3L216.4 205.8L217.9 205.6L220.7 205.8L222.2 206.1L223.4 206.8L225.7 208.4L226.7 209.3L227.9 210.9L229.2 212.4L231.4 215.7L231.9 217.2L232.3 218.7L232.6 222.2L232.6 223.7L232.3 226.2L231.8 228.4L231.2 230.7L230.2 232.7L230.2 233.2L230.4 233.4L230.8 233.7L233.2 234.5L234.2 234.9L234.4 235.2L234.3 235.4L234.0 235.7L233.4 235.8"/>
<path d="M270.6 228.2L269.9 228.3L268.9 228.3L268.1 228.1L267.4 227.7L266.6 226.9L265.5 225.2L265.0 224.2L264.8 223.4L264.8 222.4L264.9 221.2L265.3 220.2L265.8 219.4L266.4 218.8L267.1 218.3L268.1 218.0L269.4 217.7L270.4 217.7L271.4 217.8L272.4 218.2L273.2 218.7L273.9 219.3L274.4 220.0L274.9 220.9L275.1 221.9L275.2 222.9L275.0 223.9L274.7 224.9L274.1 225.9L273.4 226.7L272.6 227.3L271.6 227.9L270.6 228.2Z"/>
<path d="M262.2 235.8L261.5 235.7L261.3 235.4L261.6 235.2L262.9 234.8L266.1 234.3L270.1 234.1L274.4 234.3L276.9 234.7L277.9 235.1L278.2 235.2L278.4 235.4L278.2 235.7L277.7 235.8"/>
<path d="M220.7 181.2L218.4 181.4L215.2 180.9L213.9 180.6L207.9 178.7L207.4 178.5L207.0 177.9L206.7 177.2L206.0 174.4L206.0 172.7L206.2 171.9L206.4 171.4L206.8 170.9L207.4 170.6L209.6 169.9L210.7 169.7L213.9 169.5L218.2 168.8L221.2 168.7L225.4 168.0L230.9 168.0L234.4 167.7L238.2 167.7L241.9 168.0L244.7 168.3L245.4 168.3L247.9 167.8L252.7 167.9L255.2 167.7L256.1 167.7L260.6 168.9L261.5 169.4L261.7 169.7L262.0 170.2L262.1 171.2L262.0 172.4L261.6 173.4L261.2 174.2L260.6 174.7L259.9 175.2L257.1 176.3L255.7 176.4L248.2 176.7L238.1 177.4L230.9 178.7L223.9 181.0L220.7 181.2Z"/>
<path d="M203.5 235.8L203.0 235.4L202.9 235.2L203.0 234.9L203.2 234.7L203.9 234.3L205.9 233.7L206.3 233.4L206.4 233.2L206.4 232.9L206.2 232.2L205.0 229.9L204.5 228.7L204.2 227.7L203.3 222.4L203.3 220.9L203.5 219.2L203.8 218.2L204.6 216.4L205.6 214.7L206.5 213.4L209.3 210.2L210.4 209.2L211.7 208.5L214.7 207.2L216.4 206.7L217.9 206.6L220.7 206.8L222.2 207.1L223.2 207.6L225.2 209.0L226.2 209.9L228.6 212.9L230.6 215.9L231.2 217.4L231.6 218.9L231.9 222.2L231.9 223.7L231.3 227.2L231.0 228.7L230.4 230.5L229.3 232.7L229.2 233.2L229.4 233.4L229.9 233.7L232.7 234.5L233.5 234.9L233.7 235.2L233.7 235.4L233.3 235.7L232.7 235.8"/>
<path d="M263.9 235.8L263.2 235.7L263.0 235.4L263.3 235.2L263.9 235.0L265.4 234.7L267.4 234.5L270.1 234.4L272.6 234.5L275.1 234.8L276.4 235.1L276.7 235.2L277.0 235.4L276.8 235.7L276.0 235.8"/>
<path d="M222.4 179.7L218.7 179.9L216.9 179.8L214.2 179.2L211.7 178.6L207.7 177.3L207.3 176.9L206.9 176.2L206.4 174.4L206.4 172.9L206.5 172.2L206.7 171.7L207.2 171.2L207.7 170.9L209.8 170.2L210.9 170.0L213.9 169.8L218.2 169.2L221.4 169.2L225.4 168.4L230.4 168.6L234.7 168.2L237.7 168.2L241.7 168.5L244.7 168.9L245.7 168.8L248.2 168.4L252.4 168.4L255.8 168.2L259.9 169.3L260.4 169.6L260.8 169.9L261.2 170.7L261.3 171.4L261.2 172.4L261.0 173.2L260.5 173.9L259.4 174.7L256.9 175.8L255.7 175.9L248.2 176.1L242.4 176.7L237.9 176.8L231.2 177.8L228.4 178.6L226.2 179.0L224.2 179.5L222.4 179.7Z"/>
<path d="M203.9 235.8L203.3 235.4L203.3 235.2L203.4 234.9L203.6 234.7L204.4 234.4L206.1 233.9L206.8 233.7L207.1 233.4L207.3 233.2L207.3 232.9L206.9 231.9L205.6 229.4L205.1 228.2L204.2 222.7L204.2 221.4L204.4 219.7L204.7 218.4L205.3 217.2L206.4 215.2L207.3 213.9L209.7 211.2L210.9 210.1L212.3 209.2L214.4 208.3L216.2 207.7L217.7 207.5L221.4 207.9L222.2 208.2L223.1 208.7L224.9 210.0L225.7 210.7L228.2 213.7L229.6 215.9L230.2 217.4L230.7 218.9L231.1 222.2L231.1 223.4L230.5 226.9L230.2 228.2L229.4 230.4L228.1 232.7L228.1 233.2L228.3 233.4L228.7 233.7L231.9 234.5L232.9 234.9L233.1 235.2L233.0 235.4L232.6 235.7L231.9 235.8"/>
<path d="M266.1 235.8L265.1 235.7L264.8 235.4L265.1 235.2L266.1 234.9L269.9 234.7L273.3 234.9L274.7 235.2L275.1 235.4L274.7 235.7L273.4 235.8"/>
<path d="M223.9 178.0L217.7 178.2L214.9 177.7L212.2 177.4L210.9 177.2L207.9 176.0L207.7 175.9L207.4 175.6L207.1 174.9L206.9 173.9L206.9 172.9L207.1 172.2L207.4 171.7L207.7 171.4L209.6 170.7L210.9 170.3L215.7 170.0L218.2 169.6L220.4 169.8L221.9 169.7L223.2 169.6L225.7 169.0L230.2 169.5L234.2 169.0L236.9 169.0L244.7 169.8L245.7 169.7L248.2 169.2L255.2 169.0L255.9 169.1L257.4 169.7L259.4 170.1L260.1 170.7L260.4 171.4L260.4 172.2L260.3 172.7L260.1 173.2L259.7 173.7L259.0 174.2L257.6 174.9L256.4 175.3L255.4 175.4L252.4 175.4L247.9 175.6L244.4 175.8L241.9 176.2L237.9 176.2L230.9 177.1L228.2 177.7L225.7 177.7L223.9 178.0Z"/>
<path d="M204.5 235.8L203.9 235.7L203.7 235.4L203.6 235.2L203.9 234.8L204.7 234.5L207.1 233.9L207.8 233.7L208.2 233.4L208.4 233.2L208.3 232.7L207.9 231.7L206.2 228.7L205.7 227.2L205.2 221.9L205.5 219.7L206.1 217.9L207.7 215.2L208.4 214.2L210.2 212.3L211.7 210.9L212.9 210.1L214.9 209.2L216.4 208.7L217.7 208.6L220.4 208.9L221.4 209.1L222.2 209.5L224.2 210.9L225.2 211.7L227.2 214.2L228.0 215.2L228.5 216.2L229.1 217.7L229.6 219.2L230.1 222.2L230.2 223.4L229.5 226.4L229.2 227.7L228.1 230.4L226.5 232.9L226.6 233.2L226.8 233.4L227.4 233.7L231.4 234.7L232.1 234.9L232.4 235.2L232.3 235.4L231.9 235.7L231.0 235.8"/>
<path d="M271.1 235.7L268.6 235.7L268.2 235.7L267.4 235.4L268.4 235.2L269.9 235.1L271.2 235.2L272.0 235.4L271.1 235.7Z"/>
<path d="M228.4 176.7L225.9 176.7L223.7 176.8L221.2 176.6L218.4 176.8L211.9 176.3L210.4 175.8L208.2 174.7L207.9 174.4L207.7 174.0L207.6 172.9L207.9 172.4L208.9 171.7L210.4 171.0L211.4 170.7L216.4 170.5L218.2 170.3L220.4 170.5L222.9 170.4L225.9 169.9L226.7 170.0L228.9 170.4L230.2 170.5L231.4 170.4L234.4 169.9L236.9 169.9L244.7 170.6L247.4 170.4L249.7 170.3L252.4 170.0L254.7 169.9L255.7 170.1L258.3 171.2L258.9 171.7L259.1 172.2L258.9 172.9L258.5 173.4L257.1 174.4L256.1 174.7L255.2 174.8L252.2 174.7L249.9 175.0L244.4 175.2L241.7 175.6L239.2 175.5L237.7 175.5L232.7 176.2L230.4 176.4L228.4 176.7Z"/>
<path d="M205.7 235.8L204.5 235.7L204.1 235.4L204.1 235.2L204.3 234.9L204.8 234.7L207.4 234.2L209.3 233.7L209.7 233.4L209.8 233.2L209.7 232.7L207.3 228.4L207.0 227.7L206.8 226.9L206.4 223.2L206.3 221.9L206.7 220.2L207.2 218.7L209.5 214.7L210.2 213.9L212.3 211.9L213.4 211.2L215.2 210.4L216.4 210.1L217.4 210.0L218.7 210.1L220.7 210.6L223.7 212.2L224.4 212.9L226.4 215.2L227.2 216.4L227.9 218.4L228.8 221.9L228.9 222.9L228.9 223.7L228.2 226.4L227.2 228.9L226.4 230.4L224.7 232.6L224.5 232.9L224.5 233.2L224.7 233.4L225.3 233.7L230.4 234.7L231.3 234.9L231.5 235.2L231.4 235.4L230.9 235.7L229.9 235.8"/>
<path d="M226.7 175.7L223.9 175.8L221.4 175.6L218.7 175.6L213.2 175.3L211.7 174.9L210.5 174.4L209.8 173.9L209.6 173.7L209.4 173.2L209.6 172.7L209.8 172.4L210.3 171.9L211.2 171.5L212.2 171.3L213.7 171.2L216.7 171.3L218.4 171.2L220.4 171.3L223.9 171.2L226.2 170.9L228.9 171.4L230.2 171.5L231.9 171.4L234.4 171.0L236.9 171.0L244.2 171.5L246.9 171.4L249.4 171.5L251.9 171.0L253.4 171.0L254.9 171.1L255.9 171.5L256.9 172.1L257.1 172.7L257.0 173.2L256.6 173.6L256.1 173.8L255.4 174.0L252.2 174.0L249.4 174.4L244.2 174.5L241.7 174.9L239.2 174.7L237.2 174.8L232.4 175.5L226.7 175.7Z"/>
<path d="M207.3 235.8L205.2 235.6L204.8 235.4L204.7 235.2L205.2 234.9L210.3 233.9L211.8 233.4L212.0 233.2L212.0 232.9L210.7 231.6L209.7 230.0L209.0 228.7L208.4 227.2L207.9 224.7L207.7 222.7L207.9 221.4L208.3 219.9L210.2 215.9L210.7 215.2L211.4 214.5L212.9 213.4L213.9 212.8L216.2 212.0L217.4 211.8L218.7 212.0L220.2 212.4L221.2 212.9L222.3 213.7L223.4 214.6L224.7 215.9L225.4 216.8L226.0 217.9L226.7 219.9L227.2 222.4L227.2 223.9L226.8 225.9L226.3 227.4L225.6 228.7L223.4 231.5L221.9 232.9L221.8 233.2L222.2 233.4L223.0 233.7L224.7 234.0L229.2 234.7L230.2 234.9L230.6 235.2L230.5 235.4L229.8 235.7L228.3 235.8"/>
<path d="M225.4 174.7L223.7 174.7L214.2 174.3L213.2 174.1L212.2 173.7L211.7 173.4L211.5 172.9L211.5 172.7L211.9 172.4L212.4 172.1L213.2 172.0L216.4 172.2L218.4 172.2L220.2 172.3L222.4 172.2L225.9 172.1L226.9 172.2L228.9 172.5L230.4 172.6L231.9 172.6L234.7 172.3L237.7 172.3L240.6 172.7L242.6 173.2L241.4 173.5L237.7 173.6L235.9 173.8L231.7 174.5L225.4 174.7Z"/>
<path d="M218.7 232.0L217.2 232.1L215.7 231.9L213.4 231.2L212.2 230.6L211.2 229.5L210.4 228.3L209.9 226.9L209.5 224.9L209.3 222.9L209.4 221.4L210.4 218.7L211.1 217.2L211.9 216.0L212.8 215.2L214.3 214.4L215.7 214.1L217.4 214.0L219.2 214.2L220.4 214.7L221.9 215.7L223.2 216.9L224.2 218.2L224.9 219.8L225.4 221.7L225.5 223.4L225.4 224.7L224.7 226.9L223.9 228.4L222.9 229.6L221.4 230.8L220.2 231.5L218.7 232.0Z"/>
<path d="M209.0 235.8L207.3 235.7L206.3 235.4L206.1 235.2L206.6 234.9L207.6 234.7L211.7 234.1L216.4 233.8L222.4 234.1L227.7 234.7L229.0 234.9L229.5 235.2L229.3 235.4L228.4 235.7L225.5 235.8"/>
<path d="M217.7 230.2L216.4 230.2L215.2 229.9L213.9 229.4L213.0 228.7L212.2 227.7L211.7 226.9L211.3 225.7L211.1 224.2L211.0 222.2L211.1 221.2L211.5 219.7L212.2 218.4L212.9 217.5L213.9 216.7L215.2 216.1L216.4 215.9L217.7 215.9L219.2 216.4L220.4 217.0L221.7 218.0L222.4 218.7L223.0 219.7L223.6 221.2L223.8 222.4L223.8 223.7L223.5 224.7L222.8 226.4L222.0 227.7L221.3 228.4L220.4 229.0L218.9 229.8L217.7 230.2Z"/>
<path d="M211.2 235.8L208.4 235.6L207.8 235.4L207.5 235.2L208.4 234.9L211.7 234.4L216.4 234.2L222.7 234.4L227.2 234.9L228.0 235.2L227.6 235.4L227.4 235.5L223.0 235.8"/>
<path d="M217.2 228.0L216.4 228.0L215.7 227.9L214.9 227.6L214.2 227.1L213.6 226.4L213.2 225.7L212.9 224.9L212.8 224.2L212.9 221.4L213.1 220.4L213.4 219.7L213.9 219.1L214.7 218.5L215.4 218.2L216.4 218.0L217.4 218.1L218.4 218.3L219.4 218.8L220.2 219.3L220.8 219.9L221.3 220.7L221.7 221.7L221.8 222.4L221.8 223.4L221.5 224.4L221.0 225.4L220.5 226.2L219.9 226.8L219.3 227.2L218.2 227.7L217.2 228.0Z"/>
<path d="M223.2 235.7L216.7 235.8L212.7 235.8L211.1 235.7L209.6 235.4L209.2 235.2L209.9 234.9L211.7 234.7L216.4 234.5L222.4 234.7L224.6 234.9L225.3 235.2L224.8 235.4L223.2 235.7Z"/>
<path d="M217.7 225.5L216.7 225.6L215.9 225.4L215.4 224.9L215.0 224.2L214.9 223.2L215.1 221.9L215.4 221.2L216.2 220.7L217.2 220.6L218.2 220.9L219.0 221.4L219.4 222.2L219.5 223.2L219.3 224.2L218.7 225.0L217.7 225.5Z"/>
<path d="M222.2 235.5L216.2 235.7L211.9 235.5L211.3 235.2L212.4 234.9L216.4 234.8L221.6 234.9L222.9 235.2L222.2 235.5Z"/>
</g>
<rect x="202.4" y="134.7" width="105.00" height="101.10" fill="none" stroke="#686868" stroke-width="1"/>
<line x1="239.7" y1="134.7" x2="239.7" y2="235.8" stroke="#111" stroke-width="1.1"/>
<line x1="202.4" y1="188.4" x2="307.4" y2="188.4" stroke="#111" stroke-width="1.1"/>
<text x="203.3" y="144.8" font-size="9.7" font-weight="bold" text-anchor="start" fill="#000" stroke="#000" stroke-width="0.2">24.3</text>
<text x="305.6" y="144.6" font-size="9.7" font-weight="bold" text-anchor="end" fill="#000" stroke="#000" stroke-width="0.2">7.59</text>
<rect x="203.0" y="220.4" width="21" height="10" fill="#fff"/>
<text x="204" y="228.4" font-size="9.7" font-weight="bold" text-anchor="start" fill="#000" stroke="#000" stroke-width="0.2">49.8</text>
<text x="286" y="227.7" font-size="9.7" font-weight="bold" text-anchor="start" fill="#000" stroke="#000" stroke-width="0.2">18.2</text>
<text x="198.6" y="36.8" font-size="6.3" text-anchor="end" fill="#222" stroke="#222" stroke-width="0.25">10<tspan dy="-3.02" font-size="4.79">5</tspan></text>
<line x1="200" y1="34.5" x2="202" y2="34.5" stroke="#555" stroke-width="0.7"/>
<text x="198.6" y="59.7" font-size="6.3" text-anchor="end" fill="#222" stroke="#222" stroke-width="0.25">10<tspan dy="-3.02" font-size="4.79">4</tspan></text>
<line x1="200" y1="57.4" x2="202" y2="57.4" stroke="#555" stroke-width="0.7"/>
<text x="198.6" y="83.5" font-size="6.3" text-anchor="end" fill="#222" stroke="#222" stroke-width="0.25">10<tspan dy="-3.02" font-size="4.79">3</tspan></text>
<line x1="200" y1="81.2" x2="202" y2="81.2" stroke="#555" stroke-width="0.7"/>
<text x="198.6" y="106.7" font-size="6.3" text-anchor="end" fill="#222" stroke="#222" stroke-width="0.25">10<tspan dy="-3.02" font-size="4.79">2</tspan></text>
<line x1="200" y1="104.4" x2="202" y2="104.4" stroke="#555" stroke-width="0.7"/>
<text x="198.6" y="118.7" font-size="6.3" text-anchor="end" fill="#222" stroke="#222" stroke-width="0.25">0</text>
<text x="198.6" y="145.8" font-size="6.3" text-anchor="end" fill="#222" stroke="#222" stroke-width="0.25">10<tspan dy="-3.02" font-size="4.79">5</tspan></text>
<line x1="200.4" y1="143.5" x2="202.4" y2="143.5" stroke="#555" stroke-width="0.7"/>
<text x="198.6" y="168.7" font-size="6.3" text-anchor="end" fill="#222" stroke="#222" stroke-width="0.25">10<tspan dy="-3.02" font-size="4.79">4</tspan></text>
<line x1="200.4" y1="166.4" x2="202.4" y2="166.4" stroke="#555" stroke-width="0.7"/>
<text x="198.6" y="192.5" font-size="6.3" text-anchor="end" fill="#222" stroke="#222" stroke-width="0.25">10<tspan dy="-3.02" font-size="4.79">3</tspan></text>
<line x1="200.4" y1="190.2" x2="202.4" y2="190.2" stroke="#555" stroke-width="0.7"/>
<text x="198.6" y="215.7" font-size="6.3" text-anchor="end" fill="#222" stroke="#222" stroke-width="0.25">10<tspan dy="-3.02" font-size="4.79">2</tspan></text>
<line x1="200.4" y1="213.4" x2="202.4" y2="213.4" stroke="#555" stroke-width="0.7"/>
<text x="198.6" y="227.7" font-size="6.3" text-anchor="end" fill="#222" stroke="#222" stroke-width="0.25">0</text>
<text x="225.5" y="247.6" font-size="6.0" text-anchor="middle" fill="#222" stroke="#222" stroke-width="0.35">10<tspan dy="-2.88" font-size="4.56">2</tspan></text>
<text x="250" y="247.6" font-size="6.0" text-anchor="middle" fill="#222" stroke="#222" stroke-width="0.35">10<tspan dy="-2.88" font-size="4.56">3</tspan></text>
<text x="274.2" y="247.6" font-size="6.0" text-anchor="middle" fill="#222" stroke="#222" stroke-width="0.35">10<tspan dy="-2.88" font-size="4.56">4</tspan></text>
<text x="297.7" y="247.6" font-size="6.0" text-anchor="middle" fill="#222" stroke="#222" stroke-width="0.35">10<tspan dy="-2.88" font-size="4.56">5</tspan></text>
<text x="214.6" y="247.6" font-size="6.0" text-anchor="middle" fill="#222" stroke="#222" stroke-width="0.35">0</text>
<line x1="214.6" y1="235.8" x2="214.6" y2="238" stroke="#555" stroke-width="0.7"/>
<line x1="223.5" y1="235.8" x2="223.5" y2="238" stroke="#555" stroke-width="0.7"/>
<line x1="249" y1="235.8" x2="249" y2="238" stroke="#555" stroke-width="0.7"/>
<line x1="273" y1="235.8" x2="273" y2="238" stroke="#555" stroke-width="0.7"/>
<line x1="296.5" y1="235.8" x2="296.5" y2="238" stroke="#555" stroke-width="0.7"/>
<rect x="342.00" y="25.00" width="98.50" height="101.90" fill="none" stroke="#7a7a7a" stroke-width="1.0"/>
<text x="337.00" y="36.39" font-size="5.8" text-anchor="end" font-weight="normal" fill="#222" stroke="#222" stroke-width="0.3" >80</text>
<line x1="339.80" y1="34.30" x2="342.00" y2="34.30" stroke="#555" stroke-width="0.8" />
<text x="337.00" y="59.19" font-size="5.8" text-anchor="end" font-weight="normal" fill="#222" stroke="#222" stroke-width="0.3" >60</text>
<line x1="339.80" y1="57.10" x2="342.00" y2="57.10" stroke="#555" stroke-width="0.8" />
<text x="337.00" y="82.49" font-size="5.8" text-anchor="end" font-weight="normal" fill="#222" stroke="#222" stroke-width="0.3" >40</text>
<line x1="339.80" y1="80.40" x2="342.00" y2="80.40" stroke="#555" stroke-width="0.8" />
<text x="337.00" y="105.59" font-size="5.8" text-anchor="end" font-weight="normal" fill="#222" stroke="#222" stroke-width="0.3" >20</text>
<line x1="339.80" y1="103.50" x2="342.00" y2="103.50" stroke="#555" stroke-width="0.8" />
<text x="337.00" y="129.09" font-size="5.8" text-anchor="end" font-weight="normal" fill="#222" stroke="#222" stroke-width="0.3" >0</text>
<line x1="339.80" y1="127.00" x2="342.00" y2="127.00" stroke="#555" stroke-width="0.8" />
<path d="M342.40 98.00 L343.00 110.00 L345.00 113.80 L347.00 115.00 L348.30 109.50 L350.00 115.00 L352.50 112.50 L356.30 108.00 L358.30 110.50 L360.00 106.30 L362.00 108.80 L363.00 103.80 L364.50 103.80 L367.00 90.00 L368.30 95.00 L372.50 71.30 L375.00 70.00 L376.30 76.30 L378.00 68.80 L379.50 75.00 L381.30 69.50 L382.50 73.80 L384.00 63.80 L385.50 75.00 L388.80 57.50 L391.30 48.80 L393.00 30.00 L394.50 45.00 L396.30 70.00 L398.80 100.00 L401.30 117.50 L404.50 126.00 L408.00 126.60" fill="none" stroke="#555" stroke-width="0.9" stroke-linejoin="round" stroke-linecap="round" />
<line x1="383.00" y1="91.30" x2="424.30" y2="91.30" stroke="#333" stroke-width="1.3" />
<line x1="383.00" y1="88.70" x2="383.00" y2="93.90" stroke="#333" stroke-width="1.3" />
<line x1="424.30" y1="88.70" x2="424.30" y2="93.90" stroke="#333" stroke-width="1.3" />
<text x="399.50" y="81.30" font-size="10.8" text-anchor="start" font-weight="normal" fill="#111" stroke="#111" stroke-width="0.22" >45.8</text>
<line x1="270.50" y1="51.60" x2="360.00" y2="51.60" stroke="#333" stroke-width="0.9" />
<path d="M363.20 51.60 L359.20 49.50 L359.20 53.70 Z" fill="#111"/>
<rect x="342.00" y="134.50" width="98.50" height="102.50" fill="none" stroke="#7a7a7a" stroke-width="1.0"/>
<text x="337.00" y="148.39" font-size="5.8" text-anchor="end" font-weight="normal" fill="#222" stroke="#222" stroke-width="0.3" >60</text>
<line x1="339.80" y1="146.30" x2="342.00" y2="146.30" stroke="#555" stroke-width="0.8" />
<text x="337.00" y="178.39" font-size="5.8" text-anchor="end" font-weight="normal" fill="#222" stroke="#222" stroke-width="0.3" >40</text>
<line x1="339.80" y1="176.30" x2="342.00" y2="176.30" stroke="#555" stroke-width="0.8" />
<text x="337.00" y="208.89" font-size="5.8" text-anchor="end" font-weight="normal" fill="#222" stroke="#222" stroke-width="0.3" >20</text>
<line x1="339.80" y1="206.80" x2="342.00" y2="206.80" stroke="#555" stroke-width="0.8" />
<text x="337.00" y="239.29" font-size="5.8" text-anchor="end" font-weight="normal" fill="#222" stroke="#222" stroke-width="0.3" >0</text>
<line x1="339.80" y1="237.20" x2="342.00" y2="237.20" stroke="#555" stroke-width="0.8" />
<path d="M342.40 185.00 L343.00 205.00 L345.80 189.50 L347.50 200.00 L349.30 205.00 L352.00 194.50 L354.50 203.00 L357.00 190.50 L358.80 178.80 L360.00 186.30 L362.50 169.50 L363.30 175.00 L365.80 153.80 L367.00 162.50 L368.80 153.80 L370.00 158.80 L371.80 148.80 L373.00 152.50 L374.80 139.50 L376.30 158.80 L377.50 150.00 L378.80 160.00 L380.50 175.00 L382.50 182.50 L384.50 189.50 L387.00 187.50 L388.80 183.00 L390.00 185.00 L391.80 177.50 L393.00 182.50 L394.30 197.50 L395.80 220.00 L397.50 231.30 L400.00 236.20 L404.00 236.80" fill="none" stroke="#555" stroke-width="0.9" stroke-linejoin="round" stroke-linecap="round" />
<line x1="383.00" y1="201.30" x2="424.30" y2="201.30" stroke="#333" stroke-width="1.3" />
<line x1="383.00" y1="198.70" x2="383.00" y2="203.90" stroke="#333" stroke-width="1.3" />
<line x1="424.30" y1="198.70" x2="424.30" y2="203.90" stroke="#333" stroke-width="1.3" />
<text x="393.00" y="188.00" font-size="10.8" text-anchor="start" font-weight="normal" fill="#111" stroke="#111" stroke-width="0.22" >20</text>
<line x1="270.50" y1="162.20" x2="356.00" y2="162.20" stroke="#333" stroke-width="0.9" />
<path d="M359.40 162.20 L355.40 160.10 L355.40 164.30 Z" fill="#111"/>
<text x="352.40" y="247.60" font-size="6.0" text-anchor="middle" font-weight="normal" fill="#222" stroke="#222" stroke-width="0.35" >0</text>
<text x="362.80" y="247.60" font-size="6.0" text-anchor="middle" font-weight="normal" fill="#222" stroke="#222" stroke-width="0.35" >10<tspan dy="-2.88" font-size="4.56">2</tspan></text>
<text x="385.40" y="247.60" font-size="6.0" text-anchor="middle" font-weight="normal" fill="#222" stroke="#222" stroke-width="0.35" >10<tspan dy="-2.88" font-size="4.56">3</tspan></text>
<text x="408.50" y="247.60" font-size="6.0" text-anchor="middle" font-weight="normal" fill="#222" stroke="#222" stroke-width="0.35" >10<tspan dy="-2.88" font-size="4.56">4</tspan></text>
<text x="430.40" y="247.60" font-size="6.0" text-anchor="middle" font-weight="normal" fill="#222" stroke="#222" stroke-width="0.35" >10<tspan dy="-2.88" font-size="4.56">5</tspan></text>
<line x1="342.00" y1="237.00" x2="440.50" y2="237.00" stroke="#555" stroke-width="1.2" />
<line x1="352.40" y1="237.00" x2="352.40" y2="239.20" stroke="#555" stroke-width="0.7" />
<line x1="361.00" y1="237.00" x2="361.00" y2="239.20" stroke="#555" stroke-width="0.7" />
<line x1="384.40" y1="237.00" x2="384.40" y2="239.20" stroke="#555" stroke-width="0.7" />
<line x1="407.30" y1="237.00" x2="407.30" y2="239.20" stroke="#555" stroke-width="0.7" />
<line x1="429.20" y1="237.00" x2="429.20" y2="239.20" stroke="#555" stroke-width="0.7" />
<text x="6.00" y="312.20" font-size="16.5" text-anchor="start" font-weight="bold" fill="#000" stroke="#000" stroke-width="0.22" >B</text>
<text x="71.00" y="335.00" font-size="12" text-anchor="middle" font-weight="normal" fill="#111" stroke="#111" stroke-width="0.22" >Vehicle</text>
<text x="160.30" y="334.50" font-size="12" text-anchor="middle" font-weight="normal" fill="#111" stroke="#111" stroke-width="0.22" >AC220</text>
<text x="268.50" y="334.50" font-size="12.3" text-anchor="middle" font-weight="normal" fill="#111" stroke="#111" stroke-width="0.22" >4 wks post AC220</text>
<line x1="9.50" y1="346.00" x2="9.50" y2="423.50" stroke="#111" stroke-width="1.15" />
<line x1="10.20" y1="534.00" x2="10.20" y2="633.00" stroke="#111" stroke-width="1.15" />
<path d="M9.4 340.5 L5.0 348.6 L13.8 348.6 Z" fill="#111"/>
<path d="M10.3 638.5 L5.8 630 L14.8 630 Z" fill="#111"/>
<text transform="translate(14.10 479.00) rotate(-90) scale(1.14 1)" font-size="12.9" text-anchor="middle" fill="#111" stroke="#111" stroke-width="0.22" >Number of cells</text>
<line x1="35.00" y1="658.60" x2="151.50" y2="658.60" stroke="#111" stroke-width="1.2" />
<line x1="179.00" y1="658.60" x2="309.00" y2="658.60" stroke="#111" stroke-width="1.2" />
<path d="M27.8 658.6 L39.8 654.6 L36.6 658.6 L39.8 662.6 Z" fill="#111"/>
<path d="M315.9 658.6 L304.2 654.5 L307.4 658.6 L304.2 662.9 Z" fill="#111"/>
<text x="165.30" y="663.00" font-size="14.2" text-anchor="middle" font-weight="normal" fill="#111" stroke="#111" stroke-width="0.22" >Flt3</text>
<text x="164.80" y="677.50" font-size="14.2" text-anchor="middle" font-weight="normal" fill="#111" stroke="#111" stroke-width="0.22" >(LSK cells)</text>
<rect x="35.80" y="341.30" width="76.90" height="69.70" fill="none" stroke="#969696" stroke-width="1.15"/>
<line x1="35.80" y1="341.30" x2="35.80" y2="411.00" stroke="#444" stroke-width="1.3" />
<text x="32.00" y="346.41" font-size="5.3" text-anchor="end" font-weight="normal" fill="#222" stroke="#222" stroke-width="0.3" >60</text>
<line x1="33.60" y1="344.50" x2="35.80" y2="344.50" stroke="#555" stroke-width="0.8" />
<text x="32.00" y="368.91" font-size="5.3" text-anchor="end" font-weight="normal" fill="#222" stroke="#222" stroke-width="0.3" >40</text>
<line x1="33.60" y1="367.00" x2="35.80" y2="367.00" stroke="#555" stroke-width="0.8" />
<text x="32.00" y="391.21" font-size="5.3" text-anchor="end" font-weight="normal" fill="#222" stroke="#222" stroke-width="0.3" >20</text>
<line x1="33.60" y1="389.30" x2="35.80" y2="389.30" stroke="#555" stroke-width="0.8" />
<text x="32.00" y="413.21" font-size="5.3" text-anchor="end" font-weight="normal" fill="#222" stroke="#222" stroke-width="0.3" >0</text>
<line x1="33.60" y1="411.30" x2="35.80" y2="411.30" stroke="#555" stroke-width="0.8" />
<path d="M36.30 388.80 L37.50 389.50 L38.80 386.30 L40.50 388.80 L42.50 388.00 L44.50 391.30 L46.30 387.50 L47.50 383.80 L49.30 383.00 L51.30 378.80 L53.00 376.30 L55.00 368.80 L56.30 367.50 L58.00 358.80 L59.50 356.30 L61.30 355.50 L62.50 356.30 L63.80 363.80 L65.00 362.50 L66.00 360.50 L67.00 365.00 L68.30 372.00 L70.00 367.50 L72.00 358.80 L73.50 348.80 L75.00 348.00 L76.30 348.80 L77.50 345.00 L78.30 355.00 L79.50 375.00 L80.80 395.00 L82.00 406.30 L83.80 410.60 L86.00 410.80" fill="none" stroke="#5e5e5e" stroke-width="0.85" stroke-linejoin="round" stroke-linecap="round" />
<line x1="67.50" y1="386.30" x2="99.50" y2="386.30" stroke="#3a3a3a" stroke-width="1.1" />
<line x1="67.50" y1="384.20" x2="67.50" y2="388.40" stroke="#3a3a3a" stroke-width="1.1" />
<line x1="99.50" y1="384.20" x2="99.50" y2="388.40" stroke="#3a3a3a" stroke-width="1.1" />
<text x="79.50" y="381.30" font-size="8.5" text-anchor="start" font-weight="normal" fill="#222" stroke="#222" stroke-width="0.22" >34.5</text>
<rect x="35.80" y="419.30" width="76.90" height="69.50" fill="none" stroke="#969696" stroke-width="1.15"/>
<line x1="35.80" y1="419.30" x2="35.80" y2="488.80" stroke="#444" stroke-width="1.3" />
<text x="32.00" y="426.41" font-size="5.3" text-anchor="end" font-weight="normal" fill="#222" stroke="#222" stroke-width="0.3" >80</text>
<line x1="33.60" y1="424.50" x2="35.80" y2="424.50" stroke="#555" stroke-width="0.8" />
<text x="32.00" y="442.71" font-size="5.3" text-anchor="end" font-weight="normal" fill="#222" stroke="#222" stroke-width="0.3" >60</text>
<line x1="33.60" y1="440.80" x2="35.80" y2="440.80" stroke="#555" stroke-width="0.8" />
<text x="32.00" y="458.91" font-size="5.3" text-anchor="end" font-weight="normal" fill="#222" stroke="#222" stroke-width="0.3" >40</text>
<line x1="33.60" y1="457.00" x2="35.80" y2="457.00" stroke="#555" stroke-width="0.8" />
<text x="32.00" y="475.21" font-size="5.3" text-anchor="end" font-weight="normal" fill="#222" stroke="#222" stroke-width="0.3" >20</text>
<line x1="33.60" y1="473.30" x2="35.80" y2="473.30" stroke="#555" stroke-width="0.8" />
<text x="32.00" y="491.21" font-size="5.3" text-anchor="end" font-weight="normal" fill="#222" stroke="#222" stroke-width="0.3" >0</text>
<line x1="33.60" y1="489.30" x2="35.80" y2="489.30" stroke="#555" stroke-width="0.8" />
<path d="M36.30 475.00 L37.50 479.50 L38.80 481.30 L40.50 476.30 L42.00 481.30 L44.50 478.00 L47.00 475.00 L48.80 476.30 L50.80 473.00 L52.00 475.00 L53.00 471.30 L55.50 464.50 L57.00 466.30 L60.00 451.30 L61.50 450.00 L62.50 453.80 L63.80 449.50 L65.00 453.00 L66.30 450.00 L67.50 452.50 L68.50 445.50 L69.50 453.00 L70.80 452.50 L72.50 440.00 L74.50 435.00 L76.00 423.00 L77.00 432.50 L78.30 450.00 L80.00 472.50 L82.00 483.80 L84.50 488.30 L87.00 488.60" fill="none" stroke="#5e5e5e" stroke-width="0.85" stroke-linejoin="round" stroke-linecap="round" />
<line x1="67.50" y1="465.00" x2="99.50" y2="465.00" stroke="#3a3a3a" stroke-width="1.1" />
<line x1="67.50" y1="462.90" x2="67.50" y2="467.10" stroke="#3a3a3a" stroke-width="1.1" />
<line x1="99.50" y1="462.90" x2="99.50" y2="467.10" stroke="#3a3a3a" stroke-width="1.1" />
<text x="89.50" y="459.50" font-size="8.5" text-anchor="start" font-weight="normal" fill="#222" stroke="#222" stroke-width="0.22" >45.8</text>
<rect x="35.80" y="494.50" width="76.90" height="70.10" fill="none" stroke="#969696" stroke-width="1.15"/>
<line x1="35.80" y1="494.50" x2="35.80" y2="564.60" stroke="#444" stroke-width="1.3" />
<text x="32.00" y="508.71" font-size="5.3" text-anchor="end" font-weight="normal" fill="#222" stroke="#222" stroke-width="0.3" >80</text>
<line x1="33.60" y1="506.80" x2="35.80" y2="506.80" stroke="#555" stroke-width="0.8" />
<text x="32.00" y="523.21" font-size="5.3" text-anchor="end" font-weight="normal" fill="#222" stroke="#222" stroke-width="0.3" >60</text>
<line x1="33.60" y1="521.30" x2="35.80" y2="521.30" stroke="#555" stroke-width="0.8" />
<text x="32.00" y="537.71" font-size="5.3" text-anchor="end" font-weight="normal" fill="#222" stroke="#222" stroke-width="0.3" >40</text>
<line x1="33.60" y1="535.80" x2="35.80" y2="535.80" stroke="#555" stroke-width="0.8" />
<text x="32.00" y="551.91" font-size="5.3" text-anchor="end" font-weight="normal" fill="#222" stroke="#222" stroke-width="0.3" >20</text>
<line x1="33.60" y1="550.00" x2="35.80" y2="550.00" stroke="#555" stroke-width="0.8" />
<text x="32.00" y="566.71" font-size="5.3" text-anchor="end" font-weight="normal" fill="#222" stroke="#222" stroke-width="0.3" >0</text>
<line x1="33.60" y1="564.80" x2="35.80" y2="564.80" stroke="#555" stroke-width="0.8" />
<path d="M36.30 546.30 L37.50 548.80 L39.50 551.30 L42.00 548.80 L44.50 549.50 L46.30 547.00 L48.00 543.80 L49.30 547.50 L51.30 540.00 L53.00 541.30 L54.50 537.50 L55.80 539.50 L57.50 532.50 L59.50 522.50 L60.80 525.00 L62.00 520.00 L63.30 523.80 L64.30 517.50 L65.50 528.80 L67.00 518.80 L68.30 520.00 L69.30 515.00 L70.50 517.00 L71.80 508.80 L73.00 510.00 L74.50 498.00 L75.80 506.30 L77.00 520.00 L78.30 535.00 L79.50 553.80 L81.30 562.00 L83.80 564.20 L86.00 564.30" fill="none" stroke="#5e5e5e" stroke-width="0.85" stroke-linejoin="round" stroke-linecap="round" />
<line x1="67.50" y1="540.00" x2="99.50" y2="540.00" stroke="#3a3a3a" stroke-width="1.1" />
<line x1="67.50" y1="537.90" x2="67.50" y2="542.10" stroke="#3a3a3a" stroke-width="1.1" />
<line x1="99.50" y1="537.90" x2="99.50" y2="542.10" stroke="#3a3a3a" stroke-width="1.1" />
<text x="88.80" y="536.30" font-size="8.5" text-anchor="start" font-weight="normal" fill="#222" stroke="#222" stroke-width="0.22" >37.4</text>
<rect x="33.80" y="568.80" width="80.50" height="71.70" fill="none" stroke="#969696" stroke-width="1.15"/>
<line x1="33.80" y1="568.80" x2="33.80" y2="640.50" stroke="#444" stroke-width="1.3" />
<text x="30.00" y="576.62" font-size="5.9" text-anchor="end" font-weight="normal" fill="#222" stroke="#222" stroke-width="0.3" >80</text>
<line x1="31.60" y1="574.50" x2="33.80" y2="574.50" stroke="#555" stroke-width="0.8" />
<text x="30.00" y="593.42" font-size="5.9" text-anchor="end" font-weight="normal" fill="#222" stroke="#222" stroke-width="0.3" >60</text>
<line x1="31.60" y1="591.30" x2="33.80" y2="591.30" stroke="#555" stroke-width="0.8" />
<text x="30.00" y="609.62" font-size="5.9" text-anchor="end" font-weight="normal" fill="#222" stroke="#222" stroke-width="0.3" >40</text>
<line x1="31.60" y1="607.50" x2="33.80" y2="607.50" stroke="#555" stroke-width="0.8" />
<text x="30.00" y="626.42" font-size="5.9" text-anchor="end" font-weight="normal" fill="#222" stroke="#222" stroke-width="0.3" >20</text>
<line x1="31.60" y1="624.30" x2="33.80" y2="624.30" stroke="#555" stroke-width="0.8" />
<text x="30.00" y="642.92" font-size="5.9" text-anchor="end" font-weight="normal" fill="#222" stroke="#222" stroke-width="0.3" >0</text>
<line x1="31.60" y1="640.80" x2="33.80" y2="640.80" stroke="#555" stroke-width="0.8" />
<path d="M34.30 628.80 L36.30 631.30 L38.80 627.00 L40.50 629.50 L43.00 628.00 L45.50 625.00 L47.00 627.00 L49.50 622.00 L52.50 617.50 L55.00 615.00 L57.00 606.30 L58.30 601.30 L59.50 603.80 L61.30 597.50 L62.50 602.50 L64.00 599.50 L65.00 601.30 L66.30 595.50 L68.00 600.50 L70.00 587.50 L71.80 575.00 L72.80 582.00 L74.00 572.50 L75.80 577.50 L77.50 580.00 L78.80 592.50 L80.00 612.50 L81.80 630.00 L83.80 638.80 L86.30 640.30 L89.00 640.40" fill="none" stroke="#5e5e5e" stroke-width="0.85" stroke-linejoin="round" stroke-linecap="round" />
<line x1="67.50" y1="615.50" x2="100.80" y2="615.50" stroke="#3a3a3a" stroke-width="1.1" />
<line x1="67.50" y1="613.40" x2="67.50" y2="617.60" stroke="#3a3a3a" stroke-width="1.1" />
<line x1="100.80" y1="613.40" x2="100.80" y2="617.60" stroke="#3a3a3a" stroke-width="1.1" />
<text x="88.30" y="610.50" font-size="8.5" text-anchor="start" font-weight="normal" fill="#222" stroke="#222" stroke-width="0.22" >46.5</text>
<text x="42.40" y="648.90" font-size="5.6" text-anchor="middle" font-weight="normal" fill="#222" stroke="#222" stroke-width="0.35" >0</text>
<text x="51.20" y="648.90" font-size="5.6" text-anchor="middle" font-weight="normal" fill="#222" stroke="#222" stroke-width="0.35" >10<tspan dy="-2.69" font-size="4.26">2</tspan></text>
<text x="70.30" y="648.90" font-size="5.6" text-anchor="middle" font-weight="normal" fill="#222" stroke="#222" stroke-width="0.35" >10<tspan dy="-2.69" font-size="4.26">3</tspan></text>
<text x="88.80" y="648.90" font-size="5.6" text-anchor="middle" font-weight="normal" fill="#222" stroke="#222" stroke-width="0.35" >10<tspan dy="-2.69" font-size="4.26">4</tspan></text>
<text x="106.50" y="648.90" font-size="5.6" text-anchor="middle" font-weight="normal" fill="#222" stroke="#222" stroke-width="0.35" >10<tspan dy="-2.69" font-size="4.26">5</tspan></text>
<line x1="33.20" y1="640.50" x2="114.30" y2="640.50" stroke="#444" stroke-width="1.3" />
<line x1="42.40" y1="640.50" x2="42.40" y2="642.50" stroke="#555" stroke-width="0.7" />
<line x1="49.00" y1="640.50" x2="49.00" y2="642.50" stroke="#555" stroke-width="0.7" />
<line x1="69.00" y1="640.50" x2="69.00" y2="642.50" stroke="#555" stroke-width="0.7" />
<line x1="87.50" y1="640.50" x2="87.50" y2="642.50" stroke="#555" stroke-width="0.7" />
<line x1="105.20" y1="640.50" x2="105.20" y2="642.50" stroke="#555" stroke-width="0.7" />
<rect x="136.30" y="341.30" width="76.90" height="69.50" fill="none" stroke="#969696" stroke-width="1.15"/>
<line x1="136.30" y1="341.30" x2="136.30" y2="410.80" stroke="#444" stroke-width="1.3" />
<text x="132.50" y="358.91" font-size="5.3" text-anchor="end" font-weight="normal" fill="#222" stroke="#222" stroke-width="0.3" >60</text>
<line x1="134.10" y1="357.00" x2="136.30" y2="357.00" stroke="#555" stroke-width="0.8" />
<text x="132.50" y="376.91" font-size="5.3" text-anchor="end" font-weight="normal" fill="#222" stroke="#222" stroke-width="0.3" >40</text>
<line x1="134.10" y1="375.00" x2="136.30" y2="375.00" stroke="#555" stroke-width="0.8" />
<text x="132.50" y="394.91" font-size="5.3" text-anchor="end" font-weight="normal" fill="#222" stroke="#222" stroke-width="0.3" >20</text>
<line x1="134.10" y1="393.00" x2="136.30" y2="393.00" stroke="#555" stroke-width="0.8" />
<text x="132.50" y="413.21" font-size="5.3" text-anchor="end" font-weight="normal" fill="#222" stroke="#222" stroke-width="0.3" >0</text>
<line x1="134.10" y1="411.30" x2="136.30" y2="411.30" stroke="#555" stroke-width="0.8" />
<path d="M136.60 386.30 L137.00 382.50 L138.30 386.30 L140.00 378.80 L141.80 386.30 L143.80 379.50 L145.50 383.80 L147.00 385.00 L148.80 377.50 L150.00 380.50 L152.00 371.30 L154.50 361.30 L156.30 357.50 L157.50 358.80 L158.80 351.30 L159.50 355.00 L160.80 346.30 L161.80 344.50 L162.50 353.80 L163.50 349.50 L165.00 356.30 L167.00 365.00 L168.80 373.80 L170.50 376.30 L172.50 383.80 L174.50 387.50 L175.80 397.50 L177.00 405.00 L178.80 409.50 L181.30 410.60 L184.00 410.70" fill="none" stroke="#5e5e5e" stroke-width="0.85" stroke-linejoin="round" stroke-linecap="round" />
<line x1="168.00" y1="386.80" x2="200.50" y2="386.80" stroke="#3a3a3a" stroke-width="1.1" />
<line x1="168.00" y1="384.70" x2="168.00" y2="388.90" stroke="#3a3a3a" stroke-width="1.1" />
<line x1="200.50" y1="384.70" x2="200.50" y2="388.90" stroke="#3a3a3a" stroke-width="1.1" />
<text x="176.30" y="381.30" font-size="8.5" text-anchor="start" font-weight="normal" fill="#222" stroke="#222" stroke-width="0.22" >13.9</text>
<rect x="136.30" y="419.30" width="76.70" height="70.00" fill="none" stroke="#969696" stroke-width="1.15"/>
<line x1="136.30" y1="419.30" x2="136.30" y2="489.30" stroke="#444" stroke-width="1.3" />
<text x="132.50" y="437.41" font-size="5.3" text-anchor="end" font-weight="normal" fill="#222" stroke="#222" stroke-width="0.3" >60</text>
<line x1="134.10" y1="435.50" x2="136.30" y2="435.50" stroke="#555" stroke-width="0.8" />
<text x="132.50" y="455.71" font-size="5.3" text-anchor="end" font-weight="normal" fill="#222" stroke="#222" stroke-width="0.3" >40</text>
<line x1="134.10" y1="453.80" x2="136.30" y2="453.80" stroke="#555" stroke-width="0.8" />
<text x="132.50" y="473.21" font-size="5.3" text-anchor="end" font-weight="normal" fill="#222" stroke="#222" stroke-width="0.3" >20</text>
<line x1="134.10" y1="471.30" x2="136.30" y2="471.30" stroke="#555" stroke-width="0.8" />
<text x="132.50" y="491.51" font-size="5.3" text-anchor="end" font-weight="normal" fill="#222" stroke="#222" stroke-width="0.3" >0</text>
<line x1="134.10" y1="489.60" x2="136.30" y2="489.60" stroke="#555" stroke-width="0.8" />
<path d="M136.60 465.00 L137.50 461.30 L138.80 466.30 L140.50 460.50 L142.00 463.80 L143.30 459.50 L144.50 466.30 L146.30 460.00 L148.00 458.80 L149.50 451.30 L151.30 452.50 L153.00 441.30 L155.00 438.80 L156.30 440.00 L157.50 432.50 L158.80 422.50 L160.00 427.50 L162.00 428.80 L163.80 432.50 L165.50 437.50 L167.50 447.50 L169.30 455.00 L170.50 456.30 L171.80 450.00 L173.00 447.50 L174.50 451.30 L176.30 453.80 L177.50 458.80 L178.80 470.00 L180.00 480.00 L181.80 487.00 L183.80 489.00 L186.00 489.10" fill="none" stroke="#5e5e5e" stroke-width="0.85" stroke-linejoin="round" stroke-linecap="round" />
<line x1="168.00" y1="464.50" x2="200.50" y2="464.50" stroke="#3a3a3a" stroke-width="1.1" />
<line x1="168.00" y1="462.40" x2="168.00" y2="466.60" stroke="#3a3a3a" stroke-width="1.1" />
<line x1="200.50" y1="462.40" x2="200.50" y2="466.60" stroke="#3a3a3a" stroke-width="1.1" />
<text x="188.80" y="458.80" font-size="8.5" text-anchor="start" font-weight="normal" fill="#222" stroke="#222" stroke-width="0.22" >21.7</text>
<rect x="136.30" y="495.00" width="76.70" height="69.50" fill="none" stroke="#969696" stroke-width="1.15"/>
<line x1="136.30" y1="495.00" x2="136.30" y2="564.50" stroke="#444" stroke-width="1.3" />
<text x="132.50" y="505.71" font-size="5.3" text-anchor="end" font-weight="normal" fill="#222" stroke="#222" stroke-width="0.3" >60</text>
<line x1="134.10" y1="503.80" x2="136.30" y2="503.80" stroke="#555" stroke-width="0.8" />
<text x="132.50" y="525.71" font-size="5.3" text-anchor="end" font-weight="normal" fill="#222" stroke="#222" stroke-width="0.3" >40</text>
<line x1="134.10" y1="523.80" x2="136.30" y2="523.80" stroke="#555" stroke-width="0.8" />
<text x="132.50" y="546.21" font-size="5.3" text-anchor="end" font-weight="normal" fill="#222" stroke="#222" stroke-width="0.3" >20</text>
<line x1="134.10" y1="544.30" x2="136.30" y2="544.30" stroke="#555" stroke-width="0.8" />
<text x="132.50" y="566.71" font-size="5.3" text-anchor="end" font-weight="normal" fill="#222" stroke="#222" stroke-width="0.3" >0</text>
<line x1="134.10" y1="564.80" x2="136.30" y2="564.80" stroke="#555" stroke-width="0.8" />
<path d="M136.60 542.50 L137.50 541.30 L139.50 532.50 L141.30 541.30 L142.50 542.50 L144.30 537.50 L145.80 542.00 L147.50 533.80 L149.30 526.30 L150.00 530.00 L151.80 518.80 L153.00 522.50 L154.50 512.50 L155.80 516.30 L157.00 508.00 L158.30 512.50 L159.50 506.30 L160.80 507.00 L161.80 498.00 L163.00 511.30 L164.30 506.30 L165.50 514.50 L167.00 522.50 L168.80 531.30 L170.50 530.80 L172.50 529.50 L174.30 525.50 L175.80 527.00 L177.00 542.50 L178.30 555.00 L180.00 562.00 L182.50 564.20 L185.00 564.30" fill="none" stroke="#5e5e5e" stroke-width="0.85" stroke-linejoin="round" stroke-linecap="round" />
<line x1="168.00" y1="540.00" x2="200.50" y2="540.00" stroke="#3a3a3a" stroke-width="1.1" />
<line x1="168.00" y1="537.90" x2="168.00" y2="542.10" stroke="#3a3a3a" stroke-width="1.1" />
<line x1="200.50" y1="537.90" x2="200.50" y2="542.10" stroke="#3a3a3a" stroke-width="1.1" />
<text x="190.00" y="534.50" font-size="8.5" text-anchor="start" font-weight="normal" fill="#222" stroke="#222" stroke-width="0.22" >20</text>
<rect x="135.80" y="570.00" width="77.20" height="71.80" fill="none" stroke="#969696" stroke-width="1.15"/>
<line x1="135.80" y1="570.00" x2="135.80" y2="641.80" stroke="#444" stroke-width="1.3" />
<text x="132.00" y="579.41" font-size="5.3" text-anchor="end" font-weight="normal" fill="#222" stroke="#222" stroke-width="0.3" >100</text>
<line x1="133.60" y1="577.50" x2="135.80" y2="577.50" stroke="#555" stroke-width="0.8" />
<text x="132.00" y="592.41" font-size="5.3" text-anchor="end" font-weight="normal" fill="#222" stroke="#222" stroke-width="0.3" >80</text>
<line x1="133.60" y1="590.50" x2="135.80" y2="590.50" stroke="#555" stroke-width="0.8" />
<text x="132.00" y="605.21" font-size="5.3" text-anchor="end" font-weight="normal" fill="#222" stroke="#222" stroke-width="0.3" >60</text>
<line x1="133.60" y1="603.30" x2="135.80" y2="603.30" stroke="#555" stroke-width="0.8" />
<text x="132.00" y="618.21" font-size="5.3" text-anchor="end" font-weight="normal" fill="#222" stroke="#222" stroke-width="0.3" >40</text>
<line x1="133.60" y1="616.30" x2="135.80" y2="616.30" stroke="#555" stroke-width="0.8" />
<text x="132.00" y="631.21" font-size="5.3" text-anchor="end" font-weight="normal" fill="#222" stroke="#222" stroke-width="0.3" >20</text>
<line x1="133.60" y1="629.30" x2="135.80" y2="629.30" stroke="#555" stroke-width="0.8" />
<text x="132.00" y="643.91" font-size="5.3" text-anchor="end" font-weight="normal" fill="#222" stroke="#222" stroke-width="0.3" >0</text>
<line x1="133.60" y1="642.00" x2="135.80" y2="642.00" stroke="#555" stroke-width="0.8" />
<path d="M136.10 608.80 L137.50 610.50 L139.50 608.80 L141.30 612.00 L143.30 609.50 L145.00 606.30 L146.30 607.50 L148.00 598.80 L149.30 600.00 L150.50 595.00 L151.80 596.30 L153.00 591.30 L154.30 592.50 L155.80 586.30 L157.00 581.30 L158.00 582.50 L159.30 573.80 L160.50 578.80 L161.80 580.00 L163.00 579.50 L164.50 592.50 L165.80 600.00 L167.00 598.00 L168.30 603.80 L169.50 609.50 L170.80 600.00 L172.00 599.50 L173.80 593.30 L175.00 602.00 L175.80 600.00 L176.80 617.50 L178.00 632.50 L180.00 640.00 L182.50 641.60 L185.00 641.70" fill="none" stroke="#5e5e5e" stroke-width="0.85" stroke-linejoin="round" stroke-linecap="round" />
<line x1="168.00" y1="616.30" x2="200.00" y2="616.30" stroke="#3a3a3a" stroke-width="1.1" />
<line x1="168.00" y1="614.20" x2="168.00" y2="618.40" stroke="#3a3a3a" stroke-width="1.1" />
<line x1="200.00" y1="614.20" x2="200.00" y2="618.40" stroke="#3a3a3a" stroke-width="1.1" />
<text x="191.30" y="611.30" font-size="8.5" text-anchor="start" font-weight="normal" fill="#222" stroke="#222" stroke-width="0.22" >19.5</text>
<text x="143.80" y="650.00" font-size="5.6" text-anchor="middle" font-weight="normal" fill="#222" stroke="#222" stroke-width="0.35" >0</text>
<text x="151.80" y="650.00" font-size="5.6" text-anchor="middle" font-weight="normal" fill="#222" stroke="#222" stroke-width="0.35" >10<tspan dy="-2.69" font-size="4.26">2</tspan></text>
<text x="170.30" y="650.00" font-size="5.6" text-anchor="middle" font-weight="normal" fill="#222" stroke="#222" stroke-width="0.35" >10<tspan dy="-2.69" font-size="4.26">3</tspan></text>
<text x="188.50" y="650.00" font-size="5.6" text-anchor="middle" font-weight="normal" fill="#222" stroke="#222" stroke-width="0.35" >10<tspan dy="-2.69" font-size="4.26">4</tspan></text>
<text x="206.30" y="650.00" font-size="5.6" text-anchor="middle" font-weight="normal" fill="#222" stroke="#222" stroke-width="0.35" >10<tspan dy="-2.69" font-size="4.26">5</tspan></text>
<line x1="135.20" y1="641.80" x2="213.00" y2="641.80" stroke="#444" stroke-width="1.3" />
<line x1="143.80" y1="641.80" x2="143.80" y2="643.80" stroke="#555" stroke-width="0.7" />
<line x1="150.00" y1="641.80" x2="150.00" y2="643.80" stroke="#555" stroke-width="0.7" />
<line x1="169.00" y1="641.80" x2="169.00" y2="643.80" stroke="#555" stroke-width="0.7" />
<line x1="187.20" y1="641.80" x2="187.20" y2="643.80" stroke="#555" stroke-width="0.7" />
<line x1="205.00" y1="641.80" x2="205.00" y2="643.80" stroke="#555" stroke-width="0.7" />
<rect x="237.00" y="341.30" width="76.80" height="69.50" fill="none" stroke="#969696" stroke-width="1.15"/>
<line x1="237.00" y1="341.30" x2="237.00" y2="410.80" stroke="#444" stroke-width="1.3" />
<text x="233.20" y="349.91" font-size="5.3" text-anchor="end" font-weight="normal" fill="#222" stroke="#222" stroke-width="0.3" >100</text>
<line x1="234.80" y1="348.00" x2="237.00" y2="348.00" stroke="#555" stroke-width="0.8" />
<text x="233.20" y="362.71" font-size="5.3" text-anchor="end" font-weight="normal" fill="#222" stroke="#222" stroke-width="0.3" >80</text>
<line x1="234.80" y1="360.80" x2="237.00" y2="360.80" stroke="#555" stroke-width="0.8" />
<text x="233.20" y="375.21" font-size="5.3" text-anchor="end" font-weight="normal" fill="#222" stroke="#222" stroke-width="0.3" >60</text>
<line x1="234.80" y1="373.30" x2="237.00" y2="373.30" stroke="#555" stroke-width="0.8" />
<text x="233.20" y="387.71" font-size="5.3" text-anchor="end" font-weight="normal" fill="#222" stroke="#222" stroke-width="0.3" >40</text>
<line x1="234.80" y1="385.80" x2="237.00" y2="385.80" stroke="#555" stroke-width="0.8" />
<text x="233.20" y="400.71" font-size="5.3" text-anchor="end" font-weight="normal" fill="#222" stroke="#222" stroke-width="0.3" >20</text>
<line x1="234.80" y1="398.80" x2="237.00" y2="398.80" stroke="#555" stroke-width="0.8" />
<text x="233.20" y="413.21" font-size="5.3" text-anchor="end" font-weight="normal" fill="#222" stroke="#222" stroke-width="0.3" >0</text>
<line x1="234.80" y1="411.30" x2="237.00" y2="411.30" stroke="#555" stroke-width="0.8" />
<path d="M237.30 393.00 L238.30 394.50 L240.00 393.00 L241.30 396.30 L242.50 391.30 L244.30 394.50 L246.30 391.30 L248.00 390.50 L250.00 387.50 L251.80 386.30 L253.80 387.00 L255.00 380.00 L256.80 375.00 L258.80 371.30 L260.50 368.00 L262.00 370.00 L263.30 368.00 L264.50 372.50 L265.80 369.50 L267.00 378.80 L268.30 375.00 L269.50 377.50 L270.80 373.80 L272.00 367.50 L273.80 356.30 L275.50 348.80 L276.50 350.00 L277.50 344.50 L278.50 351.30 L279.50 362.50 L280.80 382.50 L282.00 396.30 L283.80 406.30 L285.50 410.30 L288.00 410.60" fill="none" stroke="#5e5e5e" stroke-width="0.85" stroke-linejoin="round" stroke-linecap="round" />
<line x1="268.80" y1="386.80" x2="301.30" y2="386.80" stroke="#3a3a3a" stroke-width="1.1" />
<line x1="268.80" y1="384.70" x2="268.80" y2="388.90" stroke="#3a3a3a" stroke-width="1.1" />
<line x1="301.30" y1="384.70" x2="301.30" y2="388.90" stroke="#3a3a3a" stroke-width="1.1" />
<text x="289.50" y="381.30" font-size="8.5" text-anchor="start" font-weight="normal" fill="#222" stroke="#222" stroke-width="0.22" >39.1</text>
<rect x="237.00" y="419.30" width="76.80" height="70.00" fill="none" stroke="#969696" stroke-width="1.15"/>
<line x1="237.00" y1="419.30" x2="237.00" y2="489.30" stroke="#444" stroke-width="1.3" />
<text x="233.20" y="426.21" font-size="5.3" text-anchor="end" font-weight="normal" fill="#222" stroke="#222" stroke-width="0.3" >100</text>
<line x1="234.80" y1="424.30" x2="237.00" y2="424.30" stroke="#555" stroke-width="0.8" />
<text x="233.20" y="439.41" font-size="5.3" text-anchor="end" font-weight="normal" fill="#222" stroke="#222" stroke-width="0.3" >80</text>
<line x1="234.80" y1="437.50" x2="237.00" y2="437.50" stroke="#555" stroke-width="0.8" />
<text x="233.20" y="452.41" font-size="5.3" text-anchor="end" font-weight="normal" fill="#222" stroke="#222" stroke-width="0.3" >60</text>
<line x1="234.80" y1="450.50" x2="237.00" y2="450.50" stroke="#555" stroke-width="0.8" />
<text x="233.20" y="465.71" font-size="5.3" text-anchor="end" font-weight="normal" fill="#222" stroke="#222" stroke-width="0.3" >40</text>
<line x1="234.80" y1="463.80" x2="237.00" y2="463.80" stroke="#555" stroke-width="0.8" />
<text x="233.20" y="478.71" font-size="5.3" text-anchor="end" font-weight="normal" fill="#222" stroke="#222" stroke-width="0.3" >20</text>
<line x1="234.80" y1="476.80" x2="237.00" y2="476.80" stroke="#555" stroke-width="0.8" />
<text x="233.20" y="491.51" font-size="5.3" text-anchor="end" font-weight="normal" fill="#222" stroke="#222" stroke-width="0.3" >0</text>
<line x1="234.80" y1="489.60" x2="237.00" y2="489.60" stroke="#555" stroke-width="0.8" />
<path d="M237.30 476.30 L238.80 478.00 L240.50 476.30 L242.50 478.30 L244.50 476.30 L246.30 477.50 L248.00 475.00 L249.50 470.00 L250.80 473.80 L252.50 468.80 L254.30 467.50 L255.80 466.30 L257.00 461.30 L258.30 463.80 L259.50 457.00 L260.80 461.30 L262.00 456.30 L263.30 458.00 L264.50 455.00 L265.80 463.80 L267.00 465.00 L268.30 458.80 L269.50 461.30 L270.80 456.30 L272.50 446.30 L274.30 437.50 L276.00 423.00 L277.00 431.30 L278.30 437.50 L279.50 451.30 L280.80 467.50 L282.00 480.00 L283.80 487.00 L285.50 489.00 L288.00 489.10" fill="none" stroke="#5e5e5e" stroke-width="0.85" stroke-linejoin="round" stroke-linecap="round" />
<line x1="268.80" y1="464.50" x2="301.30" y2="464.50" stroke="#3a3a3a" stroke-width="1.1" />
<line x1="268.80" y1="462.40" x2="268.80" y2="466.60" stroke="#3a3a3a" stroke-width="1.1" />
<line x1="301.30" y1="462.40" x2="301.30" y2="466.60" stroke="#3a3a3a" stroke-width="1.1" />
<text x="290.50" y="460.00" font-size="8.5" text-anchor="start" font-weight="normal" fill="#222" stroke="#222" stroke-width="0.22" >43</text>
<rect x="235.00" y="493.80" width="80.50" height="75.50" fill="none" stroke="#969696" stroke-width="1.15"/>
<line x1="235.00" y1="493.80" x2="235.00" y2="569.30" stroke="#444" stroke-width="1.3" />
<text x="231.20" y="500.12" font-size="5.9" text-anchor="end" font-weight="normal" fill="#222" stroke="#222" stroke-width="0.3" >100</text>
<line x1="232.80" y1="498.00" x2="235.00" y2="498.00" stroke="#555" stroke-width="0.8" />
<text x="231.20" y="514.62" font-size="5.9" text-anchor="end" font-weight="normal" fill="#222" stroke="#222" stroke-width="0.3" >80</text>
<line x1="232.80" y1="512.50" x2="235.00" y2="512.50" stroke="#555" stroke-width="0.8" />
<text x="231.20" y="528.92" font-size="5.9" text-anchor="end" font-weight="normal" fill="#222" stroke="#222" stroke-width="0.3" >60</text>
<line x1="232.80" y1="526.80" x2="235.00" y2="526.80" stroke="#555" stroke-width="0.8" />
<text x="231.20" y="542.92" font-size="5.9" text-anchor="end" font-weight="normal" fill="#222" stroke="#222" stroke-width="0.3" >40</text>
<line x1="232.80" y1="540.80" x2="235.00" y2="540.80" stroke="#555" stroke-width="0.8" />
<text x="231.20" y="557.12" font-size="5.9" text-anchor="end" font-weight="normal" fill="#222" stroke="#222" stroke-width="0.3" >20</text>
<line x1="232.80" y1="555.00" x2="235.00" y2="555.00" stroke="#555" stroke-width="0.8" />
<text x="231.20" y="571.62" font-size="5.9" text-anchor="end" font-weight="normal" fill="#222" stroke="#222" stroke-width="0.3" >0</text>
<line x1="232.80" y1="569.50" x2="235.00" y2="569.50" stroke="#555" stroke-width="0.8" />
<path d="M235.30 552.50 L237.00 551.80 L238.80 553.30 L240.00 555.50 L242.00 553.00 L244.50 550.50 L246.30 547.50 L247.50 542.50 L248.80 546.30 L250.50 542.50 L252.00 540.00 L253.30 536.30 L254.50 540.00 L255.80 536.30 L257.50 530.00 L259.30 529.50 L261.30 525.00 L263.00 524.50 L264.50 528.80 L265.80 526.30 L267.00 533.00 L268.30 529.50 L269.30 534.50 L270.50 528.00 L271.80 520.00 L273.30 510.00 L275.00 500.50 L276.30 501.30 L277.00 497.50 L278.00 505.00 L279.30 517.50 L280.50 537.50 L281.80 555.00 L283.30 564.50 L285.50 568.80 L288.00 569.10" fill="none" stroke="#5e5e5e" stroke-width="0.85" stroke-linejoin="round" stroke-linecap="round" />
<line x1="268.80" y1="542.50" x2="301.30" y2="542.50" stroke="#3a3a3a" stroke-width="1.1" />
<line x1="268.80" y1="540.40" x2="268.80" y2="544.60" stroke="#3a3a3a" stroke-width="1.1" />
<line x1="301.30" y1="540.40" x2="301.30" y2="544.60" stroke="#3a3a3a" stroke-width="1.1" />
<text x="290.00" y="536.30" font-size="8.5" text-anchor="start" font-weight="normal" fill="#222" stroke="#222" stroke-width="0.22" >40.3</text>
<text x="243.30" y="577.80" font-size="5.6" text-anchor="middle" font-weight="normal" fill="#222" stroke="#222" stroke-width="0.35" >0</text>
<text x="251.80" y="577.80" font-size="5.6" text-anchor="middle" font-weight="normal" fill="#222" stroke="#222" stroke-width="0.35" >10<tspan dy="-2.69" font-size="4.26">2</tspan></text>
<text x="270.80" y="577.80" font-size="5.6" text-anchor="middle" font-weight="normal" fill="#222" stroke="#222" stroke-width="0.35" >10<tspan dy="-2.69" font-size="4.26">3</tspan></text>
<text x="290.30" y="577.80" font-size="5.6" text-anchor="middle" font-weight="normal" fill="#222" stroke="#222" stroke-width="0.35" >10<tspan dy="-2.69" font-size="4.26">4</tspan></text>
<text x="308.30" y="577.80" font-size="5.6" text-anchor="middle" font-weight="normal" fill="#222" stroke="#222" stroke-width="0.35" >10<tspan dy="-2.69" font-size="4.26">5</tspan></text>
<line x1="234.40" y1="569.30" x2="315.50" y2="569.30" stroke="#444" stroke-width="1.3" />
<line x1="243.30" y1="569.30" x2="243.30" y2="571.30" stroke="#555" stroke-width="0.7" />
<line x1="250.00" y1="569.30" x2="250.00" y2="571.30" stroke="#555" stroke-width="0.7" />
<line x1="269.50" y1="569.30" x2="269.50" y2="571.30" stroke="#555" stroke-width="0.7" />
<line x1="289.00" y1="569.30" x2="289.00" y2="571.30" stroke="#555" stroke-width="0.7" />
<line x1="307.00" y1="569.30" x2="307.00" y2="571.30" stroke="#555" stroke-width="0.7" />
<rect x="437.20" y="380.30" width="6.80" height="6.30" fill="#d4d4d4" stroke="#111" stroke-width="1.2"/>
<rect x="437.20" y="390.80" width="6.80" height="6.60" fill="#000" stroke="#000" stroke-width="1.2"/>
<rect x="437.20" y="401.60" width="6.80" height="6.40" fill="url(#hatch)" stroke="#111" stroke-width="1.2"/>
<text x="447.60" y="385.60" font-size="7.1" text-anchor="start" font-weight="normal" fill="#111" stroke="#111" stroke-width="0.22" >Vehicle</text>
<text x="447.60" y="396.50" font-size="7.1" text-anchor="start" font-weight="normal" fill="#111" stroke="#111" stroke-width="0.22" >AC220</text>
<text x="447.60" y="406.80" font-size="7.4" text-anchor="start" font-weight="normal" fill="#111" stroke="#111" stroke-width="0.22" >4 wks post AC220</text>
<text x="392.00" y="419.30" font-size="7.35" text-anchor="start" font-weight="normal" fill="#111" stroke="#111" stroke-width="0.22" >***P=0.0005</text>
<line x1="390.30" y1="424.80" x2="437.80" y2="424.80" stroke="#222" stroke-width="1.2" />
<line x1="390.30" y1="422.50" x2="390.30" y2="427.10" stroke="#222" stroke-width="1.2" />
<line x1="437.80" y1="422.50" x2="437.80" y2="427.10" stroke="#222" stroke-width="1.2" />
<text x="441.40" y="434.00" font-size="7.35" text-anchor="start" font-weight="normal" fill="#111" stroke="#111" stroke-width="0.22" >***P=0.0002</text>
<line x1="437.00" y1="437.80" x2="485.30" y2="437.80" stroke="#222" stroke-width="1.2" />
<line x1="437.00" y1="435.50" x2="437.00" y2="440.10" stroke="#222" stroke-width="1.2" />
<line x1="485.30" y1="435.50" x2="485.30" y2="440.10" stroke="#222" stroke-width="1.2" />
<line x1="367.70" y1="427.60" x2="367.70" y2="523.30" stroke="#111" stroke-width="1.3" />
<line x1="367.10" y1="522.70" x2="509.00" y2="522.70" stroke="#111" stroke-width="1.4" />
<line x1="365.10" y1="522.70" x2="367.70" y2="522.70" stroke="#111" stroke-width="0.9" />
<text x="364.00" y="525.30" font-size="7.2" text-anchor="end" font-weight="normal" fill="#111" stroke="#111" stroke-width="0.3" >0</text>
<line x1="365.10" y1="503.85" x2="367.70" y2="503.85" stroke="#111" stroke-width="0.9" />
<text x="364.00" y="506.45" font-size="7.2" text-anchor="end" font-weight="normal" fill="#111" stroke="#111" stroke-width="0.3" >10</text>
<line x1="365.10" y1="485.00" x2="367.70" y2="485.00" stroke="#111" stroke-width="0.9" />
<text x="364.00" y="487.60" font-size="7.2" text-anchor="end" font-weight="normal" fill="#111" stroke="#111" stroke-width="0.3" >20</text>
<line x1="365.10" y1="466.15" x2="367.70" y2="466.15" stroke="#111" stroke-width="0.9" />
<text x="364.00" y="468.75" font-size="7.2" text-anchor="end" font-weight="normal" fill="#111" stroke="#111" stroke-width="0.3" >30</text>
<line x1="365.10" y1="447.30" x2="367.70" y2="447.30" stroke="#111" stroke-width="0.9" />
<text x="364.00" y="449.90" font-size="7.2" text-anchor="end" font-weight="normal" fill="#111" stroke="#111" stroke-width="0.3" >40</text>
<line x1="365.10" y1="428.45" x2="367.70" y2="428.45" stroke="#111" stroke-width="0.9" />
<text x="364.00" y="431.05" font-size="7.2" text-anchor="end" font-weight="normal" fill="#111" stroke="#111" stroke-width="0.3" >50</text>
<text transform="translate(348.80 474.70) rotate(-90) scale(1.0 1)" font-size="11.35" text-anchor="middle" fill="#111" stroke="#111" stroke-width="0.22" >% Flt3+ LSK Cells</text>
<line x1="391.40" y1="442.40" x2="391.40" y2="447.30" stroke="#111" stroke-width="1.2" />
<line x1="386.10" y1="442.40" x2="396.70" y2="442.40" stroke="#111" stroke-width="1.3" />
<rect x="379.20" y="447.30" width="24.40" height="75.40" fill="#d6d6d6" stroke="#111" stroke-width="1.3"/>
<line x1="437.60" y1="483.68" x2="437.60" y2="487.26" stroke="#111" stroke-width="1.2" />
<line x1="432.30" y1="483.68" x2="442.90" y2="483.68" stroke="#111" stroke-width="1.3" />
<rect x="425.30" y="487.26" width="24.60" height="35.44" fill="#000" stroke="#111" stroke-width="1.3"/>
<line x1="484.90" y1="443.15" x2="484.90" y2="445.60" stroke="#111" stroke-width="1.2" />
<line x1="479.60" y1="443.15" x2="490.20" y2="443.15" stroke="#111" stroke-width="1.3" />
<rect x="472.80" y="445.60" width="24.20" height="77.10" fill="url(#hatch)" stroke="#111" stroke-width="1.3"/>
<text x="391.30" y="531.40" font-size="6.7" text-anchor="middle" font-weight="normal" fill="#111" stroke="#111" stroke-width="0.22" >40.0±3</text>
<text x="437.70" y="531.40" font-size="6.7" text-anchor="middle" font-weight="normal" fill="#111" stroke="#111" stroke-width="0.22" >18.8±3</text>
<text x="485.80" y="530.20" font-size="6.7" text-anchor="middle" font-weight="normal" fill="#111" stroke="#111" stroke-width="0.22" >40.9±1</text>
<text x="388.50" y="541.50" font-size="8.4" text-anchor="middle" font-weight="normal" fill="#111" stroke="#111" stroke-width="0.22" >(n=4)</text>
<text x="436.00" y="541.50" font-size="8.4" text-anchor="middle" font-weight="normal" fill="#111" stroke="#111" stroke-width="0.22" >(n=4)</text>
<text x="485.40" y="541.50" font-size="8.4" text-anchor="middle" font-weight="normal" fill="#111" stroke="#111" stroke-width="0.22" >(n=3)</text>
</svg></body></html>
